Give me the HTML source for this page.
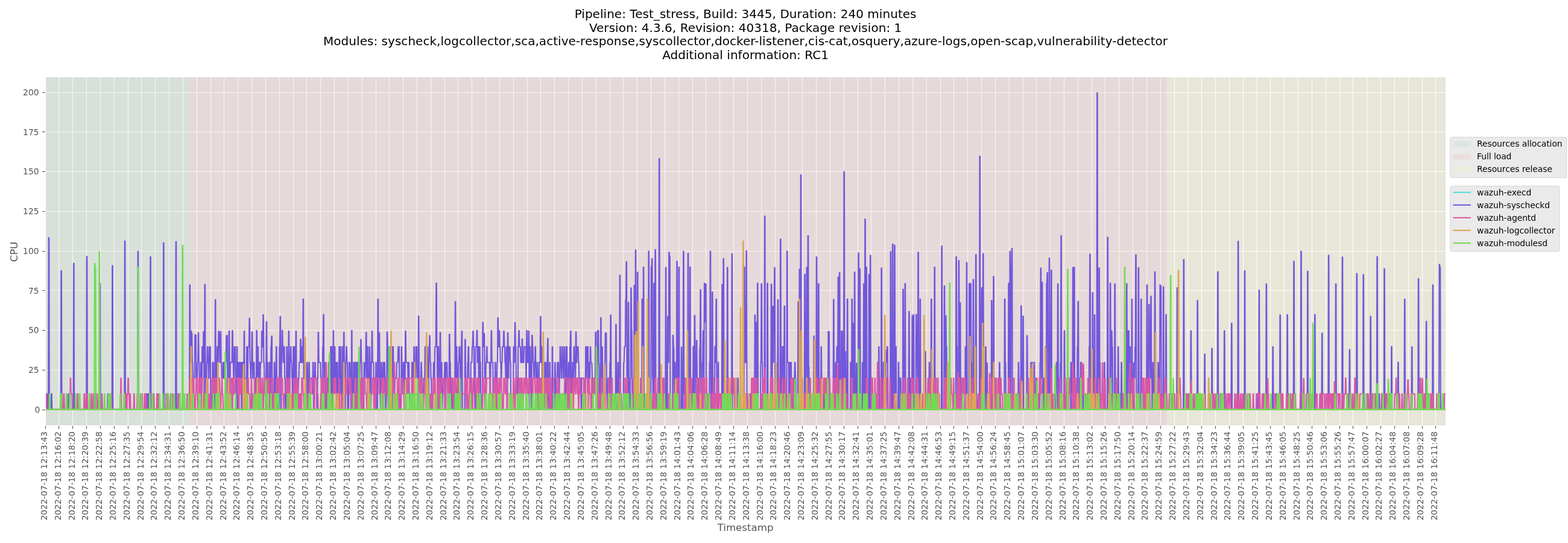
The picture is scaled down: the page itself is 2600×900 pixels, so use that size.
<!DOCTYPE html>
<html lang="en"><head><meta charset="utf-8"><title>CPU usage</title>
<style>html,body{margin:0;padding:0;background:#fff;}svg{display:block;}text{font-family:"DejaVu Sans","Liberation Sans",sans-serif;}.tl{font-size:13.89px;fill:#555555;}.ti{font-size:20px;fill:#000;text-anchor:middle;letter-spacing:0.033px;}.lg{font-size:13.89px;fill:#000;letter-spacing:-0.06px;}.al{font-size:16.67px;fill:#555555;text-anchor:middle;}.s{fill:none;stroke-width:2.08;stroke-linejoin:round;stroke-linecap:butt;}</style></head><body>
<svg width="2600" height="900" viewBox="0 0 2600 900">
<rect width="2600" height="900" fill="#ffffff"/>
<text class="ti" x="1236.1" y="30.2">Pipeline: Test_stress, Build: 3445, Duration: 240 minutes</text>
<text class="ti" x="1236.1" y="52.7">Version: 4.3.6, Revision: 40318, Package revision: 1</text>
<text class="ti" x="1236.1" y="75.2">Modules: syscheck,logcollector,sca,active-response,syscollector,docker-listener,cis-cat,osquery,azure-logs,open-scap,vulnerability-detector</text>
<text class="ti" x="1236.1" y="97.7">Additional information: RC1</text>
<rect x="76.0" y="128.0" width="2321.0" height="577.0" fill="#e5e5e5"/>
<path d="M97.5 128V705M120.5 128V705M143.5 128V705M166.5 128V705M189.5 128V705M212.5 128V705M234.5 128V705M257.5 128V705M280.5 128V705M303.5 128V705M326.5 128V705M349.5 128V705M371.5 128V705M394.5 128V705M417.5 128V705M440.5 128V705M463.5 128V705M486.5 128V705M508.5 128V705M531.5 128V705M554.5 128V705M577.5 128V705M600.5 128V705M623.5 128V705M645.5 128V705M668.5 128V705M691.5 128V705M714.5 128V705M737.5 128V705M759.5 128V705M782.5 128V705M805.5 128V705M828.5 128V705M851.5 128V705M874.5 128V705M896.5 128V705M919.5 128V705M942.5 128V705M965.5 128V705M988.5 128V705M1011.5 128V705M1033.5 128V705M1056.5 128V705M1079.5 128V705M1102.5 128V705M1125.5 128V705M1148.5 128V705M1170.5 128V705M1193.5 128V705M1216.5 128V705M1239.5 128V705M1262.5 128V705M1285.5 128V705M1307.5 128V705M1330.5 128V705M1353.5 128V705M1376.5 128V705M1399.5 128V705M1422.5 128V705M1444.5 128V705M1467.5 128V705M1490.5 128V705M1513.5 128V705M1536.5 128V705M1559.5 128V705M1581.5 128V705M1604.5 128V705M1627.5 128V705M1650.5 128V705M1673.5 128V705M1696.5 128V705M1718.5 128V705M1741.5 128V705M1764.5 128V705M1787.5 128V705M1810.5 128V705M1832.5 128V705M1855.5 128V705M1878.5 128V705M1901.5 128V705M1924.5 128V705M1947.5 128V705M1969.5 128V705M1992.5 128V705M2015.5 128V705M2038.5 128V705M2061.5 128V705M2084.5 128V705M2106.5 128V705M2129.5 128V705M2152.5 128V705M2175.5 128V705M2198.5 128V705M2221.5 128V705M2243.5 128V705M2266.5 128V705M2289.5 128V705M2312.5 128V705M2335.5 128V705M2358.5 128V705M2380.5 128V705M76 679.5H2397M76 613.5H2397M76 547.5H2397M76 481.5H2397M76 416.5H2397M76 350.5H2397M76 284.5H2397M76 218.5H2397M76 153.5H2397" stroke="#ffffff" stroke-width="1.11" fill="none"/>
<rect x="76.0" y="128.0" width="239.0" height="577.0" fill="#008000" fill-opacity="0.05"/>
<rect x="315.0" y="128.0" width="1619.0" height="577.0" fill="#ff0000" fill-opacity="0.05"/>
<rect x="1934.0" y="128.0" width="463.0" height="577.0" fill="#ffff00" fill-opacity="0.05"/>
<clipPath id="c"><rect x="76.0" y="128.0" width="2321.0" height="577.0"/></clipPath>
<g clip-path="url(#c)">
<path class="s" stroke="#57dbdb" d="M75.33 678.85H2396.92"/>
<path class="s" stroke="#7157db" d="M75.33 678.85H78.04L78.59 652.82H79.13L79.68 678.85H80.22L80.77 393.95H81.31L81.85 678.85H84.57L85.11 652.82H85.65L86.2 678.85H100.87L101.42 448.7H101.96L102.51 678.85H112.83L113.38 652.82H113.92L114.47 678.85H121.53L122.08 436.45H122.62L123.16 678.85H143.27L143.82 425.2H144.36L144.91 678.85H156.32L156.87 652.82H157.41L157.95 678.85H165.02L165.56 469.95H166.1L166.65 678.85H178.06L178.61 652.82H179.15L179.7 678.85H185.67L186.22 440.2H186.76L187.31 678.85H206.33L206.87 399.45H207.41L207.96 678.85H228.07L228.62 416.7H229.16L229.7 678.85H243.29L243.84 652.82H244.38L244.92 678.85H245.46L246.01 652.82H246.55L247.1 678.85H248.73L249.27 425.7H249.81L250.36 678.85H270.47L271.02 402.45H271.56L272.1 678.85H274.82L275.36 652.82H275.9L276.45 678.85H282.43L282.97 652.82H283.51L284.06 678.85H291.12L291.67 400.45H292.21L292.76 678.85H313.95L314.5 472.2H315.04L315.59 600.75H316.13L316.68 548.69H317.22L317.76 552.7H318.3L318.85 600.75H319.39L319.94 626.79H322.65L323.2 554.92H323.74L324.29 555.2H324.83L325.37 626.79H327L327.55 600.75H328.09L328.63 551.45H329.17L329.72 600.75H330.26L330.81 652.82H332.44L332.98 600.75H333.52L334.07 678.85H334.61L335.16 574.72H335.7L336.24 600.75H336.78L337.33 549.7H337.87L338.42 678.85H338.96L339.51 471.2H340.05L340.59 626.79H341.13L341.68 678.85H342.22L342.77 600.75H343.31L343.85 574.72H344.39L344.94 600.75H345.48L346.03 626.79H346.57L347.12 574.72H348.74L349.29 652.82H349.83L350.38 678.85H352L352.55 600.75H354.18L354.73 678.85H356.35L356.9 496.7H357.44L357.99 678.85H358.53L359.07 626.79H359.61L360.16 574.72H360.7L361.25 600.75H361.79L362.34 548.69H362.88L363.42 555.7H363.96L364.51 600.75H365.05L365.6 549.45H366.14L366.68 600.75H367.22L367.77 626.79H369.4L369.95 600.75H370.49L371.03 626.79H371.57L372.12 600.75H372.66L373.21 626.79H373.75L374.29 600.75H374.83L375.38 556.41H375.92L376.47 556.2H377.01L377.56 678.85H378.1L378.64 652.82H379.18L379.73 548.69H380.27L380.82 652.82H381.36L381.9 600.75H384.62L385.17 547.95H385.71L386.25 600.75H386.79L387.34 626.79H387.88L388.43 574.72H390.05L390.6 626.79H391.14L391.69 678.85H392.23L392.78 574.72H393.32L393.86 678.85H394.4L394.95 600.75H395.49L396.04 626.79H396.58L397.12 600.75H397.66L398.21 626.79H398.75L399.3 600.75H399.84L400.39 678.85H400.93L401.47 600.75H403.1L403.65 626.79H404.19L404.73 548.7H405.27L405.82 678.85H406.36L406.91 626.79H407.45L408 678.85H408.54L409.08 574.72H409.62L410.17 652.82H410.71L411.26 574.72H412.88L413.43 527.45H413.97L414.52 600.75H415.06L415.61 626.79H416.15L416.69 600.75H417.23L417.78 550.2H418.32L418.87 626.79H419.41L419.95 600.75H421.58L422.13 678.85H422.67L423.22 626.79H423.76L424.3 652.82H424.84L425.39 547.95H425.93L426.48 678.85H427.02L427.56 574.72H428.1L428.65 678.85H429.19L429.74 600.75H430.28L430.83 626.79H431.37L431.91 600.75H433.54L434.09 548.7H434.63L435.17 574.72H435.71L436.26 521.7H436.8L437.35 600.75H437.89L438.44 626.79H438.98L439.52 652.82H440.06L440.61 626.79H441.15L441.7 533.2H442.24L442.78 626.79H443.32L443.87 600.75H444.41L444.96 652.82H446.59L447.13 600.75H447.67L448.22 652.82H448.76L449.31 574.72H449.85L450.39 556.95H450.93L451.48 678.85H454.2L454.74 600.75H455.28L455.83 678.85H456.37L456.92 626.79H457.46L458 574.72H458.54L459.09 626.79H459.63L460.18 678.85H460.72L461.27 626.79H461.81L462.35 678.85H462.89L463.44 574.72H463.98L464.53 524.7H465.07L465.61 678.85H466.15L466.7 600.75H467.24L467.79 547.7H468.33L468.88 574.72H469.42L469.96 600.75H470.5L471.05 574.72H471.59L472.14 626.79H472.68L473.22 678.85H474.85L475.4 574.72H475.94L476.49 652.82H477.03L477.57 626.79H478.11L478.66 548.7H479.2L479.75 678.85H480.29L480.83 600.75H481.37L481.92 574.72H482.46L483.01 600.75H483.55L484.1 626.79H484.64L485.18 678.85H485.72L486.27 574.72H486.81L487.36 626.79H487.9L488.44 574.72H488.98L489.53 678.85H490.07L490.62 548.69H491.16L491.71 678.85H492.25L492.79 626.79H493.33L493.88 652.82H494.42L494.97 626.79H495.51L496.05 600.75H497.68L498.23 562.2H498.77L499.32 600.75H499.86L500.4 574.72H500.94L501.49 600.75H502.03L502.58 495.7H503.12L503.66 626.79H505.29L505.84 600.75H506.38L506.93 678.85H508.55L509.1 600.75H509.64L510.19 626.79H510.73L511.27 678.85H511.81L512.36 600.75H512.9L513.45 652.82H513.99L514.54 626.79H517.25L517.8 652.82H518.34L518.88 600.75H519.42L519.97 678.85H520.51L521.06 626.79H521.6L522.15 600.75H522.69L523.23 626.79H524.86L525.41 678.85H525.95L526.49 626.79H527.03L527.58 550.7H528.12L528.67 600.75H531.38L531.93 626.79H532.47L533.02 678.85H533.56L534.1 626.79H534.64L535.19 574.72H535.73L536.28 521.45H536.82L537.37 678.85H537.91L538.45 600.75H538.99L539.54 626.79H540.08L540.63 678.85H542.25L542.8 626.79H543.34L543.89 678.85H544.43L544.98 600.75H545.52L546.06 678.85H546.6L547.15 626.79H547.69L548.24 574.72H548.78L549.32 678.85H549.86L550.41 574.72H550.95L551.5 678.85H552.04L552.59 548.2H553.13L553.67 652.82H554.21L554.76 574.72H555.3L555.85 626.79H556.39L556.93 600.75H557.47L558.02 678.85H558.56L559.11 600.75H559.65L560.2 652.82H560.74L561.28 678.85H561.82L562.37 574.72H562.91L563.46 652.82H564L564.54 574.72H565.08L565.63 652.82H566.17L566.72 678.85H567.26L567.81 574.72H568.35L568.89 678.85H569.43L569.98 550.7H570.52L571.07 600.75H571.61L572.15 678.85H572.69L573.24 600.75H573.78L574.33 574.72H574.87L575.42 600.75H575.96L576.5 678.85H578.13L578.68 600.75H580.3L580.85 626.79H581.39L581.94 678.85H582.48L583.03 547.7H583.57L584.11 678.85H585.74L586.29 600.75H587.91L588.46 678.85H589L589.55 600.75H591.18L591.72 678.85H592.26L592.81 600.75H593.35L593.9 626.79H594.44L594.98 600.75H595.52L596.07 626.79H596.61L597.16 600.75H597.7L598.25 562.7H598.79L599.33 600.75H599.87L600.42 678.85H600.96L601.51 626.79H602.05L602.59 678.85H603.13L603.68 600.75H604.22L604.77 626.79H605.31L605.86 600.75H606.4L606.94 550.7H607.48L608.03 626.79H608.57L609.12 574.72H609.66L610.2 626.79H610.74L611.29 678.85H611.83L612.38 574.72H612.92L613.47 600.75H614.01L614.55 678.85H615.09L615.64 600.75H616.18L616.73 548.69H617.27L617.81 600.75H619.44L619.99 678.85H620.53L621.08 626.79H621.62L622.16 652.82H622.7L623.25 600.75H623.79L624.34 678.85H625.96L626.51 495.7H627.05L627.6 626.79H628.14L628.69 551.45H629.23L629.77 626.79H630.31L630.86 678.85H631.4L631.95 600.75H632.49L633.03 626.79H634.66L635.21 600.75H635.75L636.3 678.85H636.84L637.38 600.75H637.92L638.47 626.79H639.01L639.56 678.85H640.1L640.64 652.82H641.18L641.73 550.2H642.27L642.82 574.72H643.36L643.91 678.85H644.45L644.99 626.79H645.53L646.08 574.72H647.71L648.25 600.75H648.79L649.34 574.72H649.88L650.43 678.85H650.97L651.52 574.72H652.06L652.6 678.85H653.14L653.69 652.82H654.23L654.78 626.79H657.49L658.04 600.75H659.67L660.21 574.72H661.84L662.39 678.85H664.01L664.56 652.82H665.1L665.65 574.72H666.19L666.74 626.79H667.28L667.82 652.82H668.36L668.91 600.75H670.54L671.08 652.82H671.62L672.17 548.69H672.71L673.26 600.75H675.97L676.52 626.79H677.06L677.61 600.75H678.15L678.69 678.85H680.32L680.87 652.82H681.41L681.96 678.85H682.5L683.04 600.75H684.67L685.22 678.85H685.76L686.3 574.72H686.84L687.39 626.79H689.02L689.57 574.72H691.19L691.74 626.79H692.28L692.83 678.85H693.37L693.91 523.95H694.45L695 626.79H695.54L696.09 652.82H696.63L697.18 626.79H697.72L698.26 600.75H698.8L699.35 626.79H699.89L700.44 652.82H700.98L701.52 678.85H702.06L702.61 626.79H704.24L704.79 574.72H706.41L706.96 678.85H707.5L708.05 574.72H708.59L709.13 600.75H709.67L710.22 678.85H710.76L711.31 574.72H711.85L712.4 556.2H712.94L713.48 600.75H714.02L714.57 626.79H715.11L715.66 678.85H717.28L717.83 652.82H718.37L718.92 600.75H719.46L720.01 626.79H720.55L721.09 574.72H722.72L723.27 469.2H723.81L724.35 574.72H724.89L725.44 678.85H725.98L726.53 574.72H727.07L727.62 652.82H728.16L728.7 600.75H729.24L729.79 551.2H730.33L730.88 652.82H731.42L731.96 600.75H732.5L733.05 678.85H733.59L734.14 652.82H734.68L735.23 626.79H736.85L737.4 600.75H737.94L738.49 678.85H739.03L739.57 600.75H741.2L741.75 626.79H742.29L742.84 678.85H744.46L745.01 553.95H745.55L746.1 600.75H746.64L747.18 652.82H747.72L748.27 626.79H748.81L749.36 678.85H750.99L751.53 652.82H752.07L752.62 678.85H753.16L753.71 626.79H754.25L754.79 499.95H755.33L755.88 626.79H756.42L756.97 574.72H757.51L758.06 626.79H758.6L759.14 652.82H759.68L760.23 600.75H760.77L761.32 574.72H761.86L762.4 600.75H762.94L763.49 678.85H764.03L764.58 574.72H765.12L765.67 548.69H766.21L766.75 678.85H770.55L771.1 562.7H771.64L772.19 626.79H773.82L774.36 652.82H774.9L775.45 600.75H775.99L776.54 574.72H777.08L777.62 626.79H779.25L779.8 678.85H780.34L780.89 600.75H782.51L783.06 574.72H783.6L784.15 548.69H784.69L785.23 574.72H785.77L786.32 626.79H786.86L787.41 678.85H787.95L788.5 574.72H790.12L790.67 547.7H791.21L791.76 600.75H792.3L792.84 574.72H793.38L793.93 678.85H794.47L795.02 574.72H795.56L796.11 600.75H796.65L797.19 652.82H797.73L798.28 678.85H799.91L800.45 534.45H800.99L801.54 574.72H802.08L802.63 552.7H803.17L803.72 626.79H805.34L805.89 600.75H806.43L806.98 574.72H807.52L808.06 600.75H811.87L812.41 652.82H812.95L813.5 600.75H814.04L814.59 547.95H815.13L815.67 600.75H817.3L817.85 678.85H818.39L818.94 626.79H819.48L820.02 678.85H820.56L821.11 600.75H821.65L822.2 678.85H822.74L823.28 626.79H823.82L824.37 600.75H824.91L825.46 526.7H826L826.55 574.72H827.09L827.63 548.2H828.17L828.72 574.72H829.26L829.81 600.75H830.35L830.89 626.79H831.43L831.98 600.75H832.52L833.07 574.72H834.7L835.24 548.69H835.78L836.33 574.72H836.87L837.42 600.75H837.96L838.5 626.79H839.04L839.59 574.72H840.13L840.68 678.85H841.22L841.77 551.45H842.31L842.85 626.79H843.39L843.94 574.72H845.57L846.11 600.75H846.65L847.2 678.85H848.83L849.38 652.82H849.92L850.46 678.85H851L851.55 574.72H852.09L852.64 600.75H853.18L853.72 534.7H854.26L854.81 574.72H855.35L855.9 626.79H857.53L858.07 678.85H858.61L859.16 574.72H859.7L860.25 547.95H860.79L861.33 574.72H862.96L863.51 600.75H865.14L865.68 561.7H866.22L866.77 600.75H868.4L868.94 574.72H871.66L872.21 626.79H872.75L873.29 547.95H873.83L874.38 600.75H876.01L876.55 548.69H877.09L877.64 678.85H878.18L878.73 574.72H879.27L879.82 600.75H880.36L880.9 678.85H881.44L881.99 555.7H882.53L883.08 574.72H883.62L884.16 600.75H884.7L885.25 626.79H885.79L886.34 600.75H886.88L887.43 574.72H887.97L888.51 626.79H890.14L890.69 600.75H891.23L891.77 626.79H892.31L892.86 678.85H893.4L893.95 600.75H895.58L896.12 524.7H896.66L897.21 600.75H897.75L898.3 574.72H898.84L899.38 678.85H899.92L900.47 574.72H901.01L901.56 652.82H902.1L902.65 600.75H903.19L903.73 678.85H904.27L904.82 600.75H905.36L905.91 678.85H906.45L906.99 600.75H907.53L908.08 560.95H908.62L909.17 652.82H909.71L910.26 678.85H910.8L911.34 600.75H911.88L912.43 678.85H912.97L913.52 652.82H914.06L914.6 678.85H915.14L915.69 574.72H916.23L916.78 678.85H917.32L917.87 652.82H918.41L918.95 678.85H919.49L920.04 600.75H920.58L921.13 626.79H921.67L922.21 678.85H922.75L923.3 626.79H923.84L924.39 600.75H926.02L926.56 678.85H927.1L927.65 626.79H928.19L928.74 574.72H929.28L929.82 600.75H930.36L930.91 626.79H931.45L932 574.72H932.54L933.09 600.75H933.63L934.17 626.79H934.71L935.26 574.72H935.8L936.35 600.75H936.89L937.43 678.85H937.97L938.52 574.72H940.15L940.7 678.85H941.24L941.78 626.79H942.32L942.87 600.75H943.41L943.96 678.85H944.5L945.04 574.72H945.58L946.13 548.69H946.67L947.22 678.85H947.76L948.31 626.79H948.85L949.39 600.75H949.93L950.48 626.79H951.02L951.57 574.72H952.11L952.65 600.75H953.19L953.74 626.79H954.28L954.83 550.2H955.37L955.92 600.75H956.46L957 574.72H958.63L959.18 600.75H959.72L960.26 626.79H960.8L961.35 652.82H961.89L962.44 626.79H962.98L963.53 678.85H964.07L964.61 626.79H968.41L968.96 652.82H969.5L970.05 678.85H970.59L971.14 574.72H971.68L972.22 626.79H972.76L973.31 574.72H974.94L975.48 678.85H976.02L976.57 600.75H977.11L977.66 626.79H978.2L978.75 574.72H979.29L979.83 600.75H980.37L980.92 602.07H981.46L982.01 626.79H982.55L983.09 678.85H983.63L984.18 626.79H986.9L987.44 550.45H987.98L988.53 652.82H989.07L989.62 678.85H990.16L990.7 547.95H991.24L991.79 548.03H992.33L992.88 603.37H993.42L993.97 678.85H995.59L996.14 526.45H996.68L997.23 678.85H997.77L998.31 575.05H998.85L999.4 678.85H1002.12L1002.66 600.75H1003.2L1003.75 551.95H1004.29L1004.84 552.13H1005.38L1005.92 652.82H1006.46L1007.01 678.85H1007.55L1008.1 626.79H1009.73L1010.27 678.85H1010.81L1011.36 600.75H1011.9L1012.45 522.2H1012.99L1013.53 678.85H1020.6L1021.14 537.7H1021.68L1022.23 678.85H1022.77L1023.32 652.82H1023.86L1024.41 600.75H1024.95L1025.49 678.85H1027.12L1027.67 456.2H1028.21L1028.75 678.85H1033.64L1034.19 600.75H1034.73L1035.28 574.72H1036.9L1037.45 496.7H1037.99L1038.54 433.7H1039.08L1039.63 678.85H1041.25L1041.8 501.2H1042.34L1042.89 678.85H1044.51L1045.06 626.79H1045.6L1046.15 477.2H1046.69L1047.24 547.95H1047.78L1048.32 678.85H1051.04L1051.58 472.95H1052.12L1052.67 678.85H1053.21L1053.76 414.2H1054.3L1054.85 678.85H1056.47L1057.02 451.2H1057.56L1058.11 678.85H1061.91L1062.46 626.79H1063L1063.54 678.85H1064.08L1064.63 495.7H1065.17L1065.72 678.85H1066.26L1066.8 442.7H1067.34L1067.89 678.85H1074.95L1075.5 416.45H1076.04L1076.59 678.85H1077.13L1077.68 652.82H1078.22L1078.76 678.85H1079.3L1079.85 442.7H1080.39L1080.94 428.7H1081.48L1082.02 626.79H1082.56L1083.11 678.85H1083.65L1084.2 469.45H1084.74L1085.29 652.82H1085.83L1086.37 413.7H1086.91L1087.46 678.85H1089.09L1089.63 652.82H1090.17L1090.72 678.85H1092.35L1092.9 263.13H1093.44L1093.98 678.85H1101.05L1101.59 652.82H1102.13L1102.68 678.85H1103.22L1103.77 443.2H1104.31L1104.85 678.85H1106.48L1107.03 524.45H1107.57L1108.12 600.75H1108.66L1109.2 418.2H1109.74L1110.29 425.7H1110.83L1111.38 678.85H1115.18L1115.73 555.7H1116.27L1116.81 576.35H1117.35L1117.9 678.85H1118.44L1118.99 600.58H1119.53L1120.07 678.85H1121.7L1122.25 433.2H1122.79L1123.34 678.85H1124.96L1125.51 442.7H1126.05L1126.6 678.85H1129.31L1129.86 575.42H1130.4L1130.95 678.85H1132.57L1133.12 416.7H1133.66L1134.21 652.82H1134.75L1135.29 626.79H1135.83L1136.38 678.85H1138.01L1138.56 652.82H1139.1L1139.64 678.85H1140.18L1140.73 419.7H1141.27L1141.82 678.85H1143.44L1143.99 442.7H1144.53L1145.08 678.85H1148.88L1149.43 574.49H1149.97L1150.51 678.85H1151.05L1151.6 522.7H1152.14L1152.69 600.75H1153.23L1153.78 678.85H1154.32L1154.86 564.24H1155.4L1155.95 626.79H1157.58L1158.12 678.85H1159.75L1160.3 577.28H1160.84L1161.39 480.2H1161.93L1162.47 678.85H1164.1L1164.65 600.75H1165.19L1165.73 548.2H1166.27L1166.82 626.79H1167.36L1167.91 469.45H1168.45L1169 533.5H1169.54L1170.08 470.7H1170.62L1171.17 678.85H1173.88L1174.43 652.82H1174.97L1175.52 678.85H1176.06L1176.61 600.58H1177.15L1177.69 416.45H1178.23L1178.78 678.85H1180.41L1180.95 483.95H1181.49L1182.04 678.85H1182.58L1183.13 626.79H1183.67L1184.22 678.85H1184.76L1185.3 574.49H1185.84L1186.39 600.75H1186.93L1187.48 495.7H1188.02L1188.56 678.85H1190.19L1190.74 600.58H1191.28L1191.83 678.85H1196.71L1197.26 471.7H1197.8L1198.35 678.85H1198.89L1199.44 428.7H1199.98L1200.52 678.85H1205.41L1205.96 443.2H1206.5L1207.05 678.85H1210.85L1211.39 652.82H1211.93L1212.48 678.85H1213.02L1213.57 420.7H1214.11L1214.66 678.85H1222.81L1223.35 626.79H1223.89L1224.44 678.85H1232.59L1233.14 652.82H1233.68L1234.22 442.7H1234.76L1235.31 600.75H1236.94L1237.49 415.7H1238.03L1238.57 652.82H1239.11L1239.66 678.85H1243.46L1244.01 652.82H1244.55L1245.1 678.85H1247.81L1248.36 626.79H1248.9L1249.44 678.85H1251.07L1251.62 522.2H1252.16L1252.71 678.85H1253.25L1253.79 534.45H1254.33L1254.88 678.85H1255.42L1255.97 469.45H1256.51L1257.05 678.85H1260.86L1261.4 600.75H1261.94L1262.49 470.2H1263.03L1263.58 600.75H1264.12L1264.66 678.85H1267.38L1267.93 358.31H1268.47L1269.01 678.85H1271.73L1272.27 469.45H1272.81L1273.36 652.82H1273.9L1274.45 678.85H1278.25L1278.8 471.2H1279.34L1279.88 678.85H1280.42L1280.97 507.7H1281.51L1282.06 600.75H1282.6L1283.15 507.7H1283.69L1284.23 443.45H1284.77L1285.32 678.85H1289.12L1289.67 496.95H1290.21L1290.76 678.85H1293.47L1294.02 396.45H1294.56L1295.1 678.85H1295.64L1296.19 652.82H1296.73L1297.28 574.49H1297.82L1298.37 574.72H1298.91L1299.45 678.85H1299.99L1300.54 507.2H1301.08L1301.63 678.85H1304.34L1304.89 416.45H1305.43L1305.98 600.75H1307.6L1308.15 678.85H1308.69L1309.24 600.58H1309.78L1310.32 678.85H1310.86L1311.41 600.75H1311.95L1312.5 678.85H1313.04L1313.59 652.82H1314.13L1314.67 678.85H1316.3L1316.85 626.79H1317.39L1317.93 600.75H1318.47L1319.02 626.79H1319.56L1320.11 678.85H1322.82L1323.37 500.7H1323.91L1324.46 678.85H1325L1325.54 446.2H1326.08L1326.63 626.79H1327.17L1327.72 289.95H1328.26L1328.81 678.85H1333.69L1334.24 454.7H1334.78L1335.33 678.85H1335.87L1336.42 574.49H1336.96L1337.5 443.2H1338.04L1338.59 678.85H1339.13L1339.68 390.7H1340.22L1340.76 608.03H1341.3L1341.85 678.85H1342.39L1342.94 626.79H1343.48L1344.03 678.85H1348.91L1349.46 556.95H1350L1350.55 652.82H1351.09L1351.64 678.85H1353.26L1353.81 425.95H1354.35L1354.9 602.07H1355.44L1355.98 678.85H1356.52L1357.07 470.2H1357.61L1358.16 678.85H1360.87L1361.42 574.86H1361.96L1362.51 626.79H1363.05L1363.59 678.85H1365.22L1365.77 652.82H1366.31L1366.86 678.85H1368.48L1369.03 652.82H1369.57L1370.12 678.85H1372.83L1373.38 549.33H1373.92L1374.47 549.7H1375.01L1375.55 678.85H1377.18L1377.73 652.82H1379.35L1379.9 678.85H1381.53L1382.08 496.45H1382.62L1383.16 678.85H1384.79L1385.34 600.75H1385.88L1386.42 678.85H1386.96L1387.51 574.72H1388.05L1388.6 600.75H1389.14L1389.69 459.2H1390.23L1390.77 678.85H1391.31L1391.86 451.95H1392.4L1392.95 678.85H1394.57L1395.12 548.77H1395.66L1396.21 548.7H1396.75L1397.3 678.85H1398.92L1399.47 284.69H1400.01L1400.56 678.85H1401.1L1401.64 582.87H1402.18L1402.73 678.85H1404.36L1404.91 495.7H1405.45L1405.99 678.85H1409.79L1410.34 600.58H1410.88L1411.43 678.85H1411.97L1412.52 495.7H1413.06L1413.6 678.85H1414.14L1414.69 536.2H1415.23L1415.78 652.82H1416.32L1416.86 450.95H1417.4L1417.95 678.85H1418.49L1419.04 652.82H1419.58L1420.13 602.07H1420.67L1421.21 678.85H1422.84L1423.39 419.2H1423.93L1424.47 678.85H1425.01L1425.56 445.45H1426.1L1426.65 678.85H1429.36L1429.91 600.75H1430.45L1431 678.85H1431.54L1432.08 470.2H1432.62L1433.17 678.85H1433.71L1434.26 363.31H1434.8L1435.35 678.85H1435.89L1436.43 442.95H1436.97L1437.52 678.85H1438.06L1438.61 652.82H1439.15L1439.69 678.85H1440.23L1440.78 455.2H1441.32L1441.87 678.85H1442.41L1442.96 423.2H1443.5L1444.04 678.85H1450.02L1450.57 652.82H1451.11L1451.65 678.85H1456.54L1457.09 574.72H1457.63L1458.18 678.85H1459.8L1460.35 652.82H1460.89L1461.44 444.2H1461.98L1462.52 678.85H1464.15L1464.7 600.58H1465.24L1465.79 652.82H1466.33L1466.87 678.85H1468.5L1469.05 600.75H1469.59L1470.13 580.64H1470.67L1471.22 574.72H1471.76L1472.31 678.85H1476.11L1476.66 416.95H1477.2L1477.74 678.85H1479.37L1479.92 404.45H1480.46L1481.01 678.85H1482.63L1483.18 406.2H1483.72L1484.27 678.85H1484.81L1485.35 574.49H1485.89L1486.44 678.85H1489.16L1489.7 600.58H1490.24L1490.79 678.85H1491.33L1491.88 626.79H1493.5L1494.05 652.82H1494.59L1495.14 678.85H1496.77L1497.31 479.45H1497.85L1498.4 678.85H1500.03L1500.57 469.95H1501.11L1501.66 678.85H1506.55L1507.1 516.2H1507.64L1508.18 678.85H1508.72L1509.27 626.79H1509.81L1510.36 678.85H1511.99L1512.53 523.2H1513.07L1513.62 678.85H1514.16L1514.71 521.45H1515.25L1515.79 678.85H1518.51L1519.06 521.45H1519.6L1520.14 585.67H1520.68L1521.23 626.79H1521.77L1522.32 417.95H1522.86L1523.4 678.85H1525.03L1525.58 495.7H1526.12L1526.67 678.85H1533.73L1534.28 582.87H1534.82L1535.36 678.85H1536.99L1537.54 652.82H1538.08L1538.62 678.85H1540.25L1540.8 600.75H1541.34L1541.89 678.85H1543.51L1544.06 495.7H1544.6L1545.15 652.82H1545.69L1546.23 678.85H1548.95L1549.5 442.95H1550.04L1550.58 678.85H1551.12L1551.67 626.79H1552.21L1552.76 678.85H1560.91L1561.45 407.7H1561.99L1562.54 678.85H1565.26L1565.8 473.95H1566.34L1566.89 678.85H1567.43L1567.98 523.45H1568.52L1569.06 574.72H1569.6L1570.15 678.85H1584.82L1585.37 425.7H1585.91L1586.46 574.72H1587L1587.55 678.85H1589.17L1589.72 431.95H1590.26L1590.81 678.85H1591.35L1591.89 501.95H1592.43L1592.98 678.85H1595.7L1596.24 626.79H1596.78L1597.33 678.85H1600.04L1600.59 574.72H1601.13L1601.68 652.82H1602.22L1602.77 435.2H1603.31L1603.85 678.85H1606.57L1607.11 469.95H1607.65L1608.2 678.85H1608.74L1609.29 469.95H1609.83L1610.38 600.75H1610.92L1611.46 678.85H1613.09L1613.64 463.2H1614.18L1614.72 678.85H1616.35L1616.9 626.79H1617.44L1617.99 421.95H1618.53L1619.07 652.82H1619.61L1620.16 678.85H1623.96L1624.51 258.92H1625.05L1625.6 678.85H1626.14L1626.68 626.79H1627.22L1627.77 476.95H1628.31L1628.86 678.85H1629.4L1629.94 420.45H1630.48L1631.03 678.85H1632.66L1633.21 652.82H1633.75L1634.29 574.86H1634.83L1635.38 678.85H1635.92L1636.47 601.51H1637.01L1637.55 678.85H1643.53L1644.08 497.95H1644.62L1645.16 678.85H1646.79L1647.34 458.2H1647.88L1648.43 678.85H1648.97L1649.51 626.79H1650.05L1650.6 678.85H1656.58L1657.12 600.75H1657.66L1658.21 652.82H1658.75L1659.3 678.85H1665.27L1665.82 495.7H1666.36L1666.91 600.75H1667.45L1667.99 678.85H1671.8L1672.34 469.45H1672.88L1673.43 678.85H1673.97L1674.52 416.7H1675.06L1675.6 678.85H1676.14L1676.69 448.7H1677.23L1677.78 411.7H1678.32L1678.87 678.85H1684.84L1685.39 652.82H1685.93L1686.48 678.85H1688.1L1688.65 600.75H1689.19L1689.74 678.85H1692.45L1693 506.95H1693.54L1694.09 678.85H1695.71L1696.26 523.95H1696.8L1697.35 678.85H1702.24L1702.78 556.2H1703.32L1703.87 626.79H1704.41L1704.96 678.85H1708.76L1709.31 600.75H1709.85L1710.39 678.85H1710.93L1711.48 600.75H1712.02L1712.57 678.85H1714.19L1714.74 600.75H1715.28L1715.83 678.85H1717.46L1718 626.79H1718.54L1719.09 678.85H1723.98L1724.53 600.75H1725.07L1725.61 444.45H1726.15L1726.7 626.79H1727.24L1727.79 467.7H1728.33L1728.87 678.85H1730.5L1731.05 626.79H1731.59L1732.14 678.85H1732.68L1733.22 574.72H1733.76L1734.31 678.85H1734.85L1735.4 469.45H1735.94L1736.48 451.95H1737.02L1737.57 678.85H1738.11L1738.66 652.82H1739.2L1739.75 427.95H1740.29L1740.83 652.82H1742.46L1743.01 447.7H1743.55L1744.09 678.85H1748.98L1749.53 652.82H1750.07L1750.62 678.85H1751.16L1751.7 600.75H1752.24L1752.79 678.85H1753.33L1753.88 470.45H1754.42L1754.97 626.79H1755.51L1756.05 678.85H1757.68L1758.23 600.75H1758.77L1759.31 390.45H1759.85L1760.4 678.85H1764.2L1764.75 548.2H1765.29L1765.84 678.85H1775.07L1775.62 600.75H1776.16L1776.71 678.85H1778.34L1778.88 443.2H1779.42L1779.97 678.85H1780.51L1781.06 443.2H1781.6L1782.14 678.85H1785.95L1786.49 574.72H1787.03L1787.58 499.45H1788.12L1788.67 678.85H1789.21L1789.75 626.79H1790.29L1790.84 678.85H1791.38L1791.93 600.75H1792.47L1793.02 678.85H1795.73L1796.28 626.79H1796.82L1797.36 678.85H1800.08L1800.63 652.82H1801.17L1801.71 678.85H1805.51L1806.06 574.72H1806.6L1807.15 421.2H1807.69L1808.24 678.85H1808.78L1809.32 626.79H1809.86L1810.41 678.85H1810.95L1811.5 484.95H1812.04L1812.58 678.85H1814.21L1814.76 521.7H1815.3L1815.85 678.85H1818.56L1819.11 154H1819.65L1820.19 678.85H1821.82L1822.37 443.95H1822.91L1823.46 600.75H1824L1824.54 678.85H1830.52L1831.07 600.75H1831.61L1832.15 678.85H1835.95L1836.5 393.2H1837.04L1837.59 678.85H1840.3L1840.85 469.45H1841.39L1841.94 652.82H1842.48L1843.02 548.2H1843.56L1844.11 574.72H1844.65L1845.2 652.82H1845.74L1846.29 678.85H1847.91L1848.46 470.45H1849L1849.55 678.85H1853.35L1853.9 574.72H1854.44L1854.98 652.82H1855.52L1856.07 678.85H1856.61L1857.16 652.82H1857.7L1858.24 678.85H1858.78L1859.33 600.75H1859.87L1860.42 678.85H1862.05L1862.59 652.82H1863.13L1863.68 678.85H1867.48L1868.03 470.2H1868.57L1869.12 678.85H1869.66L1870.2 548.4H1870.74L1871.29 548.2H1871.83L1872.38 678.85H1872.92L1873.46 574.72H1874L1874.55 678.85H1876.18L1876.73 495.7H1877.27L1877.81 678.85H1879.44L1879.99 601.51H1880.53L1881.07 626.79H1881.61L1882.16 574.72H1882.7L1883.25 422.2H1883.79L1884.34 678.85H1887.05L1887.6 443.7H1888.14L1888.68 678.85H1891.4L1891.95 495.7H1892.49L1893.03 678.85H1894.66L1895.21 652.82H1895.75L1896.29 678.85H1901.18L1901.73 472.2H1902.27L1902.82 678.85H1904.44L1904.99 504.45H1905.53L1906.08 575.42H1906.62L1907.17 626.79H1907.71L1908.25 490.95H1908.79L1909.34 626.79H1909.88L1910.43 678.85H1910.97L1911.51 600.75H1912.05L1912.6 678.85H1914.23L1914.78 450.45H1915.32L1915.86 600.75H1916.4L1916.95 678.85H1917.49L1918.04 652.82H1918.58L1919.12 678.85H1919.66L1920.21 600.75H1920.75L1921.3 626.79H1921.84L1922.39 678.85H1922.93L1923.47 472.2H1924.01L1924.56 474.8H1925.1L1925.65 652.82H1926.19L1926.73 678.85H1928.36L1928.91 475.45H1929.45L1930 678.85H1932.71L1933.26 521.45H1933.8L1934.34 678.85H1951.19L1951.74 476.95H1952.28L1952.83 678.85H1962.06L1962.61 430.2H1963.15L1963.7 678.85H1974.02L1974.57 548.2H1975.11L1975.66 678.85H1984.89L1985.44 498.2H1985.98L1986.53 678.85H1996.85L1997.4 586.97H1997.94L1998.49 678.85H2008.81L2009.36 577.66H2009.9L2010.44 678.85H2018.59L2019.14 450.45H2019.68L2020.23 678.85H2022.94L2023.49 652.82H2024.03L2024.58 678.85H2029.47L2030.01 548.2H2030.55L2031.1 678.85H2041.42L2041.97 535.95H2042.51L2043.06 678.85H2052.3L2052.84 399.95H2053.38L2053.93 678.85H2063.17L2063.71 448.95H2064.25L2064.8 678.85H2084.91L2085.46 652.82H2086L2086.54 678.85H2087.08L2087.63 480.95H2088.17L2088.72 678.85H2094.69L2095.24 652.82H2095.78L2096.33 678.85H2099.04L2099.59 470.7H2100.13L2100.68 678.85H2109.91L2110.46 574.86H2111L2111.55 678.85H2116.44L2116.98 652.82H2117.52L2118.07 678.85H2121.87L2122.42 521.95H2122.96L2123.51 678.85H2133.83L2134.38 521.7H2134.92L2135.47 678.85H2144.7L2145.25 433.2H2145.79L2146.34 678.85H2156.66L2157.21 416.45H2157.75L2158.3 678.85H2167.53L2168.08 449.7H2168.62L2169.17 678.85H2179.49L2180.04 521.45H2180.58L2181.13 678.85H2188.19L2188.74 652.82H2189.28L2189.82 678.85H2191.45L2192 552.2H2192.54L2193.08 678.85H2202.32L2202.87 423.2H2203.41L2203.96 678.85H2214.28L2214.83 470.45H2215.37L2215.91 678.85H2225.15L2225.7 426.2H2226.24L2226.79 678.85H2237.11L2237.66 579.52H2238.2L2238.74 678.85H2249.07L2249.62 453.45H2250.16L2250.7 678.85H2259.94L2260.49 455.2H2261.03L2261.57 678.85H2271.9L2272.45 524.2H2272.99L2273.53 678.85H2282.77L2283.32 425.45H2283.86L2284.4 678.85H2286.03L2286.58 652.82H2287.12L2287.67 678.85H2290.38L2290.93 652.82H2291.47L2292.01 678.85H2294.73L2295.28 445.45H2295.82L2296.36 678.85H2306.69L2307.23 574.49H2307.77L2308.32 678.85H2317.56L2318.11 600.58H2318.65L2319.19 678.85H2328.43L2328.98 495.95H2329.52L2330.06 678.85H2340.39L2340.94 575.05H2341.48L2342.02 678.85H2351.26L2351.81 461.95H2352.35L2352.89 678.85H2364.31L2364.85 532.7H2365.39L2365.94 678.85H2367.57L2368.11 652.82H2368.65L2369.2 678.85H2375.18L2375.72 472.2H2376.26L2376.81 678.85H2386.05L2386.6 438.2H2387.14L2387.68 443.2H2388.22L2388.77 678.85H2396.92"/>
<path class="s" stroke="#db57a6" d="M75.33 678.85H75.87L76.42 652.82H76.96L77.5 678.85H101.96L102.51 652.82H103.05L103.6 678.85H105.22L105.77 652.82H106.31L106.86 678.85H109.57L110.12 652.82H110.66L111.21 678.85H116.09L116.64 626.79H117.18L117.73 652.82H119.36L119.9 678.85H128.05L128.6 652.82H129.14L129.69 678.85H138.92L139.47 652.82H140.01L140.56 678.85H142.19L142.73 652.82H144.36L144.91 678.85H147.62L148.17 652.82H148.71L149.26 678.85H150.88L151.43 652.82H151.97L152.52 678.85H154.14L154.69 652.82H155.23L155.78 678.85H159.58L160.13 652.82H160.67L161.21 678.85H162.84L163.39 652.82H163.93L164.48 678.85H168.28L168.82 652.82H169.36L169.91 678.85H180.24L180.78 652.82H181.32L181.87 678.85H183.5L184.04 652.82H184.58L185.13 678.85H199.8L200.35 626.79H200.89L201.44 678.85H205.24L205.79 652.82H206.33L206.87 678.85H207.41L207.96 652.82H209.59L210.14 678.85H210.68L211.22 652.82H211.76L212.31 626.79H212.85L213.4 652.82H213.94L214.48 678.85H215.02L215.57 652.82H216.11L216.66 678.85H221.55L222.09 652.82H222.63L223.18 678.85H226.98L227.53 652.82H229.16L229.7 678.85H232.42L232.97 652.82H233.51L234.05 678.85H234.59L235.14 652.82H235.68L236.23 678.85H238.94L239.49 652.82H240.03L240.58 678.85H241.12L241.66 652.82H242.2L242.75 678.85H254.16L254.71 652.82H255.25L255.8 678.85H259.6L260.14 652.82H260.68L261.23 678.85H261.77L262.32 652.82H262.86L263.41 678.85H274.82L275.36 652.82H275.9L276.45 678.85H276.99L277.54 652.82H279.17L279.71 678.85H282.43L282.97 652.82H283.51L284.06 678.85H285.69L286.24 652.82H286.78L287.32 678.85H294.39L294.93 652.82H295.47L296.02 678.85H296.56L297.11 652.82H298.73L299.28 678.85H309.61L310.15 652.82H310.69L311.24 678.85H313.95L314.5 626.79H315.04L315.59 678.85H316.13L316.68 626.79H318.3L318.85 678.85H319.39L319.94 626.79H321.56L322.11 678.85H323.74L324.29 652.82H324.83L325.37 626.79H327L327.55 678.85H329.17L329.72 626.79H330.26L330.81 652.82H331.35L331.9 626.79H332.44L332.98 652.82H333.52L334.07 626.79H337.87L338.42 678.85H340.05L340.59 652.82H342.22L342.77 626.79H344.39L344.94 678.85H346.57L347.12 652.82H347.66L348.2 678.85H350.92L351.46 626.79H352L352.55 652.82H353.09L353.64 626.79H354.18L354.73 652.82H356.35L356.9 626.79H358.53L359.07 678.85H359.61L360.16 652.82H360.7L361.25 678.85H361.79L362.34 626.79H363.96L364.51 652.82H365.05L365.6 678.85H366.14L366.68 652.82H367.22L367.77 626.79H368.31L368.86 652.82H369.4L369.95 678.85H372.66L373.21 626.79H374.83L375.38 678.85H378.1L378.64 626.79H381.36L381.9 678.85H383.53L384.08 626.79H384.62L385.17 678.85H385.71L386.25 626.79H386.79L387.34 652.82H388.97L389.51 626.79H393.32L393.86 652.82H394.4L394.95 626.79H395.49L396.04 678.85H396.58L397.12 626.79H397.66L398.21 652.82H399.84L400.39 626.79H402.01L402.56 652.82H404.19L404.73 678.85H406.36L406.91 626.79H407.45L408 678.85H408.54L409.08 652.82H410.71L411.26 626.79H411.8L412.34 652.82H413.97L414.52 678.85H416.15L416.69 626.79H417.23L417.78 678.85H418.32L418.87 652.82H420.49L421.04 678.85H421.58L422.13 626.79H422.67L423.22 678.85H425.93L426.48 626.79H427.02L427.56 652.82H428.1L428.65 626.79H429.19L429.74 678.85H431.37L431.91 626.79H432.45L433 652.82H434.63L435.17 626.79H435.71L436.26 678.85H436.8L437.35 652.82H437.89L438.44 626.79H440.06L440.61 678.85H441.15L441.7 626.79H442.24L442.78 652.82H443.32L443.87 626.79H444.41L444.96 652.82H445.5L446.05 626.79H446.59L447.13 678.85H447.67L448.22 652.82H449.85L450.39 626.79H452.02L452.57 678.85H454.2L454.74 652.82H455.28L455.83 678.85H456.37L456.92 652.82H458.54L459.09 626.79H460.72L461.27 652.82H461.81L462.35 626.79H462.89L463.44 652.82H465.07L465.61 626.79H468.33L468.88 652.82H469.42L469.96 678.85H470.5L471.05 652.82H473.76L474.31 626.79H475.94L476.49 678.85H478.11L478.66 626.79H480.29L480.83 678.85H482.46L483.01 652.82H483.55L484.1 678.85H484.64L485.18 652.82H485.72L486.27 678.85H486.81L487.36 626.79H487.9L488.44 652.82H490.07L490.62 626.79H491.16L491.71 652.82H492.25L492.79 626.79H493.33L493.88 652.82H494.42L494.97 678.85H495.51L496.05 652.82H496.59L497.14 678.85H497.68L498.23 652.82H498.77L499.32 678.85H499.86L500.4 626.79H502.03L502.58 652.82H503.12L503.66 678.85H504.2L504.75 652.82H505.29L505.84 678.85H506.38L506.93 626.79H507.47L508.01 678.85H509.64L510.19 652.82H512.9L513.45 626.79H513.99L514.54 652.82H517.25L517.8 626.79H520.51L521.06 678.85H521.6L522.15 626.79H524.86L525.41 652.82H527.03L527.58 678.85H531.38L531.93 652.82H532.47L533.02 626.79H533.56L534.1 678.85H534.64L535.19 626.79H535.73L536.28 652.82H536.82L537.37 626.79H537.91L538.45 678.85H538.99L539.54 626.79H540.08L540.63 601.13H541.17L541.71 626.79H542.25L542.8 678.85H543.34L543.89 652.82H545.52L546.06 626.79H547.69L548.24 678.85H549.86L550.41 652.82H550.95L551.5 678.85H552.04L552.59 652.82H553.13L553.67 626.79H554.21L554.76 652.82H555.3L555.85 626.79H556.39L556.93 652.82H559.65L560.2 678.85H561.82L562.37 626.79H562.91L563.46 678.85H566.17L566.72 652.82H567.26L567.81 678.85H568.35L568.89 652.82H569.43L569.98 626.79H571.61L572.15 652.82H572.69L573.24 626.79H573.78L574.33 652.82H574.87L575.42 626.79H579.22L579.76 652.82H580.3L580.85 626.79H581.39L581.94 652.82H582.48L583.03 678.85H583.57L584.11 652.82H584.65L585.2 678.85H587.91L588.46 626.79H590.09L590.64 678.85H591.18L591.72 652.82H592.26L592.81 678.85H593.35L593.9 626.79H595.52L596.07 678.85H596.61L597.16 626.79H597.7L598.25 652.82H598.79L599.33 678.85H599.87L600.42 626.79H600.96L601.51 678.85H602.05L602.59 626.79H605.31L605.86 652.82H607.48L608.03 678.85H608.57L609.12 626.79H611.83L612.38 652.82H612.92L613.47 678.85H614.01L614.55 652.82H617.27L617.81 626.79H619.44L619.99 678.85H620.53L621.08 626.79H621.62L622.16 678.85H622.7L623.25 652.82H623.79L624.34 626.79H628.14L628.69 652.82H632.49L633.03 626.79H634.66L635.21 678.85H635.75L636.3 626.79H636.84L637.38 652.82H640.1L640.64 626.79H642.27L642.82 652.82H643.36L643.91 678.85H644.45L644.99 626.79H647.71L648.25 678.85H648.79L649.34 626.79H650.97L651.52 652.82H652.06L652.6 678.85H653.14L653.69 600.58H654.23L654.78 626.79H658.58L659.13 678.85H659.67L660.21 652.82H660.75L661.3 626.79H661.84L662.39 678.85H665.1L665.65 626.79H667.28L667.82 652.82H669.45L670 678.85H672.71L673.26 626.79H673.8L674.35 652.82H674.89L675.43 626.79H675.97L676.52 652.82H677.06L677.61 626.79H682.5L683.04 652.82H683.58L684.13 626.79H685.76L686.3 652.82H693.37L693.91 626.79H695.54L696.09 652.82H696.63L697.18 626.79H697.72L698.26 652.82H698.8L699.35 626.79H699.89L700.44 652.82H700.98L701.52 678.85H702.06L702.61 652.82H704.24L704.79 626.79H705.33L705.87 678.85H706.41L706.96 652.82H708.59L709.13 678.85H709.67L710.22 652.82H710.76L711.31 678.85H711.85L712.4 652.82H712.94L713.48 678.85H714.02L714.57 652.82H716.2L716.74 678.85H717.28L717.83 626.79H718.37L718.92 652.82H720.55L721.09 626.79H721.63L722.18 678.85H722.72L723.27 652.82H723.81L724.35 678.85H724.89L725.44 626.79H725.98L726.53 652.82H727.07L727.62 678.85H728.16L728.7 626.79H729.24L729.79 678.85H730.33L730.88 652.82H731.42L731.96 626.79H734.68L735.23 652.82H735.77L736.31 626.79H736.85L737.4 678.85H739.03L739.57 626.79H742.29L742.84 678.85H743.38L743.92 626.79H744.46L745.01 652.82H745.55L746.1 626.79H748.81L749.36 652.82H749.9L750.45 626.79H750.99L751.53 678.85H752.07L752.62 652.82H753.16L753.71 626.79H755.33L755.88 652.82H757.51L758.06 626.79H759.68L760.23 652.82H760.77L761.32 678.85H761.86L762.4 652.82H762.94L763.49 678.85H764.03L764.58 652.82H770.55L771.1 626.79H772.73L773.28 678.85H773.82L774.36 626.79H774.9L775.45 678.85H777.08L777.62 652.82H778.16L778.71 626.79H779.25L779.8 678.85H780.34L780.89 652.82H781.43L781.97 626.79H782.51L783.06 678.85H783.6L784.15 652.82H784.69L785.23 626.79H787.95L788.5 652.82H789.04L789.58 678.85H790.12L790.67 626.79H792.3L792.84 652.82H793.38L793.93 626.79H794.47L795.02 652.82H795.56L796.11 678.85H799.91L800.45 626.79H802.08L802.63 652.82H803.17L803.72 678.85H804.26L804.8 626.79H805.34L805.89 652.82H806.43L806.98 626.79H812.95L813.5 652.82H817.3L817.85 678.85H818.39L818.94 626.79H819.48L820.02 678.85H820.56L821.11 626.79H821.65L822.2 652.82H822.74L823.28 678.85H823.82L824.37 626.79H824.91L825.46 652.82H827.09L827.63 626.79H828.17L828.72 652.82H829.26L829.81 626.79H831.43L831.98 652.82H832.52L833.07 678.85H834.7L835.24 626.79H836.87L837.42 652.82H839.04L839.59 626.79H840.13L840.68 678.85H841.22L841.77 652.82H846.65L847.2 678.85H851L851.55 626.79H852.09L852.64 652.82H853.18L853.72 678.85H854.26L854.81 626.79H855.35L855.9 652.82H856.44L856.99 626.79H860.79L861.33 652.82H861.87L862.42 626.79H862.96L863.51 678.85H864.05L864.6 626.79H866.22L866.77 678.85H867.31L867.86 652.82H868.4L868.94 626.79H870.57L871.12 652.82H871.66L872.21 626.79H873.83L874.38 652.82H876.01L876.55 626.79H877.09L877.64 652.82H879.27L879.82 626.79H882.53L883.08 678.85H883.62L884.16 626.79H886.88L887.43 652.82H887.97L888.51 678.85H889.05L889.6 626.79H890.14L890.69 678.85H891.23L891.77 652.82H892.31L892.86 626.79H893.4L893.95 678.85H894.49L895.04 626.79H895.58L896.12 678.85H896.66L897.21 626.79H897.75L898.3 652.82H899.92L900.47 678.85H902.1L902.65 652.82H903.19L903.73 626.79H904.27L904.82 652.82H905.36L905.91 626.79H906.45L906.99 678.85H907.53L908.08 652.82H908.62L909.17 626.79H910.8L911.34 678.85H911.88L912.43 626.79H912.97L913.52 678.85H914.06L914.6 652.82H917.32L917.87 626.79H922.75L923.3 652.82H923.84L924.39 678.85H924.93L925.48 626.79H926.02L926.56 652.82H927.1L927.65 678.85H930.36L930.91 652.82H935.8L936.35 626.79H940.15L940.7 678.85H941.24L941.78 652.82H942.32L942.87 626.79H943.41L943.96 678.85H944.5L945.04 626.79H945.58L946.13 678.85H946.67L947.22 652.82H948.85L949.39 626.79H949.93L950.48 678.85H951.02L951.57 626.79H953.19L953.74 652.82H954.28L954.83 626.79H956.46L957 652.82H957.54L958.09 626.79H958.63L959.18 678.85H959.72L960.26 652.82H960.8L961.35 626.79H961.89L962.44 652.82H966.24L966.79 678.85H967.33L967.87 626.79H968.41L968.96 678.85H969.5L970.05 652.82H970.59L971.14 626.79H973.85L974.4 678.85H974.94L975.48 652.82H976.02L976.57 626.79H977.11L977.66 652.82H979.29L979.83 678.85H980.37L980.92 626.79H981.46L982.01 678.85H983.63L984.18 626.79H984.72L985.27 652.82H985.81L986.36 626.79H986.9L987.44 652.82H987.98L988.53 626.79H989.07L989.62 678.85H990.16L990.7 626.79H991.24L991.79 678.85H993.42L993.97 652.82H995.59L996.14 678.85H996.68L997.23 626.79H997.77L998.31 652.82H999.94L1000.49 678.85H1001.03L1001.58 652.82H1002.12L1002.66 626.79H1003.2L1003.75 678.85H1007.55L1008.1 652.82H1008.64L1009.19 626.79H1009.73L1010.27 678.85H1014.07L1014.62 626.79H1015.16L1015.71 678.85H1019.51L1020.06 652.82H1020.6L1021.14 678.85H1027.12L1027.67 626.79H1028.21L1028.75 678.85H1029.29L1029.84 652.82H1030.38L1030.93 678.85H1035.82L1036.36 626.79H1036.9L1037.45 652.82H1037.99L1038.54 678.85H1039.08L1039.63 626.79H1040.17L1040.71 678.85H1048.86L1049.41 652.82H1049.95L1050.5 626.79H1051.04L1051.58 678.85H1052.12L1052.67 626.79H1053.21L1053.76 678.85H1056.47L1057.02 626.79H1057.56L1058.11 678.85H1059.73L1060.28 652.82H1060.82L1061.37 678.85H1063L1063.54 626.79H1064.08L1064.63 678.85H1073.87L1074.41 626.79H1074.95L1075.5 652.82H1076.04L1076.59 678.85H1079.3L1079.85 652.82H1080.39L1080.94 678.85H1082.56L1083.11 652.82H1083.65L1084.2 678.85H1084.74L1085.29 652.82H1085.83L1086.37 626.79H1086.91L1087.46 678.85H1090.17L1090.72 626.79H1091.26L1091.81 678.85H1093.44L1093.98 652.82H1094.52L1095.07 678.85H1096.7L1097.24 652.82H1097.78L1098.33 626.79H1098.87L1099.42 678.85H1099.96L1100.51 626.79H1101.05L1101.59 678.85H1107.57L1108.12 652.82H1108.66L1109.2 678.85H1109.74L1110.29 652.82H1110.83L1111.38 678.85H1115.18L1115.73 652.82H1116.27L1116.81 678.85H1118.44L1118.99 652.82H1119.53L1120.07 626.79H1121.7L1122.25 678.85H1122.79L1123.34 626.79H1126.05L1126.6 678.85H1134.75L1135.29 652.82H1135.83L1136.38 626.79H1136.92L1137.47 678.85H1138.01L1138.56 652.82H1140.18L1140.73 678.85H1141.27L1141.82 652.82H1142.36L1142.9 626.79H1143.44L1143.99 678.85H1145.62L1146.17 626.79H1146.71L1147.25 652.82H1147.79L1148.34 678.85H1148.88L1149.43 652.82H1149.97L1150.51 678.85H1154.32L1154.86 626.79H1155.4L1155.95 652.82H1156.49L1157.04 678.85H1158.66L1159.21 626.79H1159.75L1160.3 678.85H1163.01L1163.56 626.79H1165.19L1165.73 678.85H1166.27L1166.82 626.79H1168.45L1169 678.85H1170.62L1171.17 626.79H1171.71L1172.26 678.85H1172.8L1173.34 652.82H1173.88L1174.43 678.85H1179.32L1179.87 652.82H1181.49L1182.04 678.85H1182.58L1183.13 626.79H1183.67L1184.22 678.85H1185.84L1186.39 652.82H1188.02L1188.56 678.85H1189.1L1189.65 626.79H1190.19L1190.74 652.82H1191.28L1191.83 678.85H1192.37L1192.91 652.82H1194.54L1195.09 678.85H1195.63L1196.17 652.82H1196.71L1197.26 678.85H1199.98L1200.52 652.82H1202.15L1202.7 678.85H1204.32L1204.87 652.82H1205.41L1205.96 626.79H1206.5L1207.05 652.82H1207.59L1208.13 626.79H1208.67L1209.22 678.85H1211.93L1212.48 626.79H1215.2L1215.74 652.82H1216.28L1216.83 626.79H1217.37L1217.92 678.85H1219.54L1220.09 626.79H1220.63L1221.18 678.85H1227.15L1227.7 652.82H1228.24L1228.79 678.85H1234.76L1235.31 652.82H1238.03L1238.57 678.85H1245.64L1246.18 626.79H1246.72L1247.27 678.85H1247.81L1248.36 626.79H1248.9L1249.44 678.85H1251.07L1251.62 626.79H1252.16L1252.71 678.85H1254.33L1254.88 626.79H1255.42L1255.97 678.85H1260.86L1261.4 652.82H1261.94L1262.49 678.85H1264.12L1264.66 626.79H1266.29L1266.84 652.82H1267.38L1267.93 609.89H1268.47L1269.01 652.82H1269.55L1270.1 678.85H1277.16L1277.71 626.79H1278.25L1278.8 678.85H1279.34L1279.88 626.79H1281.51L1282.06 678.85H1284.77L1285.32 652.82H1285.86L1286.41 678.85H1290.21L1290.76 626.79H1292.38L1292.93 678.85H1295.64L1296.19 652.82H1296.73L1297.28 626.79H1297.82L1298.37 678.85H1298.91L1299.45 652.82H1299.99L1300.54 678.85H1301.08L1301.63 626.79H1302.17L1302.71 678.85H1310.86L1311.41 626.79H1311.95L1312.5 678.85H1313.04L1313.59 626.79H1315.21L1315.76 678.85H1316.3L1316.85 652.82H1317.39L1317.93 678.85H1322.82L1323.37 652.82H1325L1325.54 678.85H1326.08L1326.63 626.79H1327.17L1327.72 678.85H1329.35L1329.89 626.79H1330.43L1330.98 678.85H1333.69L1334.24 652.82H1334.78L1335.33 678.85H1335.87L1336.42 652.82H1336.96L1337.5 678.85H1339.13L1339.68 652.82H1340.22L1340.76 678.85H1342.39L1342.94 626.79H1343.48L1344.03 678.85H1346.74L1347.29 652.82H1347.83L1348.37 678.85H1352.18L1352.72 626.79H1353.26L1353.81 678.85H1354.35L1354.9 626.79H1355.44L1355.98 678.85H1357.61L1358.16 652.82H1358.7L1359.25 626.79H1359.79L1360.33 678.85H1360.87L1361.42 626.79H1361.96L1362.51 678.85H1364.13L1364.68 652.82H1365.22L1365.77 626.79H1366.31L1366.86 652.82H1367.4L1367.94 626.79H1368.48L1369.03 678.85H1369.57L1370.12 626.79H1370.66L1371.2 678.85H1371.74L1372.29 652.82H1372.83L1373.38 678.85H1375.01L1375.55 626.79H1376.09L1376.64 678.85H1380.44L1380.99 652.82H1381.53L1382.08 626.79H1382.62L1383.16 678.85H1384.79L1385.34 626.79H1386.96L1387.51 652.82H1388.05L1388.6 605.23H1389.14L1389.69 652.82H1390.23L1390.77 678.85H1396.75L1397.3 626.79H1397.84L1398.38 678.85H1398.92L1399.47 626.79H1400.01L1400.56 678.85H1401.1L1401.64 652.82H1402.18L1402.73 678.85H1403.27L1403.82 652.82H1404.36L1404.91 678.85H1410.88L1411.43 626.79H1413.06L1413.6 678.85H1420.67L1421.21 652.82H1421.75L1422.3 678.85H1422.84L1423.39 652.82H1423.93L1424.47 678.85H1435.89L1436.43 626.79H1438.06L1438.61 678.85H1444.58L1445.13 626.79H1446.76L1447.3 678.85H1450.02L1450.57 626.79H1451.11L1451.65 678.85H1452.19L1452.74 652.82H1453.28L1453.83 678.85H1454.37L1454.91 600.58H1455.45L1456 626.79H1456.54L1457.09 678.85H1459.8L1460.35 626.79H1460.89L1461.44 678.85H1464.15L1464.7 626.79H1466.33L1466.87 678.85H1467.41L1467.96 652.82H1468.5L1469.05 626.79H1470.67L1471.22 678.85H1475.02L1475.57 626.79H1476.11L1476.66 678.85H1481.55L1482.09 652.82H1482.63L1483.18 678.85H1493.5L1494.05 652.82H1494.59L1495.14 678.85H1497.85L1498.4 626.79H1500.03L1500.57 678.85H1502.2L1502.75 652.82H1503.29L1503.84 678.85H1504.38L1504.92 626.79H1505.46L1506.01 678.85H1507.64L1508.18 652.82H1508.72L1509.27 678.85H1510.9L1511.45 626.79H1511.99L1512.53 678.85H1514.16L1514.71 626.79H1515.25L1515.79 652.82H1516.33L1516.88 678.85H1519.6L1520.14 626.79H1521.77L1522.32 678.85H1525.03L1525.58 652.82H1526.12L1526.67 678.85H1529.38L1529.93 652.82H1530.47L1531.01 678.85H1531.55L1532.1 652.82H1532.64L1533.19 626.79H1533.73L1534.28 678.85H1535.9L1536.45 652.82H1538.08L1538.62 626.79H1539.16L1539.71 678.85H1541.34L1541.89 626.79H1542.43L1542.97 678.85H1544.6L1545.15 626.79H1545.69L1546.23 678.85H1546.77L1547.32 652.82H1547.86L1548.41 626.79H1548.95L1549.5 678.85H1550.04L1550.58 626.79H1551.12L1551.67 652.82H1552.21L1552.76 678.85H1554.38L1554.93 626.79H1555.47L1556.02 678.85H1556.56L1557.11 652.82H1557.65L1558.19 678.85H1565.26L1565.8 626.79H1566.34L1566.89 678.85H1567.43L1567.98 626.79H1568.52L1569.06 678.85H1569.6L1570.15 652.82H1571.78L1572.33 626.79H1572.87L1573.41 678.85H1573.95L1574.5 626.79H1575.04L1575.59 678.85H1576.13L1576.67 626.79H1577.21L1577.76 652.82H1579.39L1579.94 678.85H1580.48L1581.02 626.79H1581.56L1582.11 678.85H1582.65L1583.2 652.82H1583.74L1584.28 678.85H1585.91L1586.46 652.82H1587L1587.55 678.85H1588.09L1588.63 617.35H1589.17L1589.72 678.85H1590.26L1590.81 626.79H1591.35L1591.89 678.85H1593.52L1594.07 652.82H1594.61L1595.16 626.79H1595.7L1596.24 678.85H1596.78L1597.33 626.79H1597.87L1598.42 652.82H1598.96L1599.5 626.79H1600.04L1600.59 678.85H1603.31L1603.85 652.82H1605.48L1606.03 678.85H1606.57L1607.11 652.82H1608.74L1609.29 678.85H1609.83L1610.38 652.82H1610.92L1611.46 678.85H1612L1612.55 626.79H1613.09L1613.64 652.82H1614.18L1614.72 678.85H1615.26L1615.81 652.82H1616.35L1616.9 678.85H1617.44L1617.99 652.82H1618.53L1619.07 678.85H1621.79L1622.33 652.82H1622.87L1623.42 678.85H1625.05L1625.6 652.82H1626.14L1626.68 626.79H1627.22L1627.77 678.85H1628.31L1628.86 652.82H1630.48L1631.03 626.79H1631.57L1632.12 678.85H1640.27L1640.82 619.21H1641.36L1641.9 678.85H1643.53L1644.08 626.79H1644.62L1645.16 652.82H1645.7L1646.25 626.79H1646.79L1647.34 678.85H1650.05L1650.6 626.79H1652.23L1652.77 678.85H1654.4L1654.95 626.79H1656.58L1657.12 678.85H1658.75L1659.3 626.79H1659.84L1660.38 652.82H1662.01L1662.56 678.85H1667.45L1667.99 652.82H1668.53L1669.08 678.85H1671.8L1672.34 626.79H1673.97L1674.52 678.85H1678.32L1678.87 652.82H1679.41L1679.95 678.85H1680.49L1681.04 626.79H1681.58L1682.13 678.85H1687.02L1687.56 652.82H1688.1L1688.65 678.85H1690.28L1690.82 652.82H1691.36L1691.91 626.79H1692.45L1693 678.85H1704.41L1704.96 626.79H1705.5L1706.04 678.85H1708.76L1709.31 626.79H1710.93L1711.48 678.85H1713.11L1713.65 626.79H1714.19L1714.74 678.85H1715.28L1715.83 652.82H1716.37L1716.92 678.85H1717.46L1718 652.82H1718.54L1719.09 626.79H1719.63L1720.18 678.85H1720.72L1721.26 652.82H1721.8L1722.35 678.85H1722.89L1723.44 626.79H1723.98L1724.53 652.82H1725.07L1725.61 626.79H1726.15L1726.7 652.82H1727.24L1727.79 678.85H1728.33L1728.87 652.82H1729.41L1729.96 678.85H1732.68L1733.22 626.79H1733.76L1734.31 678.85H1734.85L1735.4 626.79H1735.94L1736.48 652.82H1737.02L1737.57 678.85H1739.2L1739.75 652.82H1740.29L1740.83 678.85H1742.46L1743.01 610.82H1743.55L1744.09 652.82H1744.63L1745.18 678.85H1746.81L1747.36 652.82H1747.9L1748.44 678.85H1754.42L1754.97 652.82H1755.51L1756.05 678.85H1756.59L1757.14 626.79H1757.68L1758.23 678.85H1765.29L1765.84 626.79H1766.38L1766.92 678.85H1768.55L1769.1 626.79H1769.64L1770.19 678.85H1771.81L1772.36 652.82H1772.9L1773.45 626.79H1773.99L1774.53 652.82H1777.25L1777.8 678.85H1778.34L1778.88 603.37H1779.42L1779.97 678.85H1781.6L1782.14 626.79H1783.77L1784.32 678.85H1784.86L1785.41 652.82H1785.95L1786.49 678.85H1787.03L1787.58 652.82H1788.12L1788.67 678.85H1790.29L1790.84 626.79H1792.47L1793.02 678.85H1793.56L1794.1 601.51H1794.64L1795.19 652.82H1795.73L1796.28 604.3H1796.82L1797.36 652.82H1797.9L1798.45 678.85H1798.99L1799.54 652.82H1801.17L1801.71 678.85H1803.34L1803.89 626.79H1804.43L1804.97 678.85H1807.69L1808.24 626.79H1810.95L1811.5 678.85H1815.3L1815.85 626.79H1816.39L1816.93 652.82H1818.56L1819.11 678.85H1820.73L1821.28 626.79H1821.82L1822.37 678.85H1824L1824.54 652.82H1825.08L1825.63 678.85H1826.17L1826.72 652.82H1827.26L1827.8 601.51H1828.34L1828.89 678.85H1830.52L1831.07 626.79H1832.69L1833.24 678.85H1838.13L1838.68 626.79H1839.22L1839.76 678.85H1840.3L1840.85 626.79H1841.39L1841.94 678.85H1842.48L1843.02 652.82H1844.65L1845.2 678.85H1850.09L1850.63 626.79H1851.17L1851.72 652.82H1852.26L1852.81 678.85H1854.44L1854.98 652.82H1855.52L1856.07 678.85H1860.96L1861.51 652.82H1862.05L1862.59 678.85H1864.22L1864.77 626.79H1865.31L1865.85 678.85H1866.39L1866.94 652.82H1867.48L1868.03 678.85H1872.92L1873.46 602.44H1874L1874.55 626.79H1876.18L1876.73 678.85H1878.35L1878.9 626.79H1880.53L1881.07 678.85H1888.14L1888.68 652.82H1893.57L1894.12 626.79H1894.66L1895.21 678.85H1895.75L1896.29 626.79H1896.83L1897.38 678.85H1899.01L1899.56 626.79H1900.1L1900.64 652.82H1902.27L1902.82 626.79H1903.36L1903.9 678.85H1904.44L1904.99 626.79H1906.62L1907.17 678.85H1912.05L1912.6 652.82H1913.14L1913.69 678.85H1915.32L1915.86 652.82H1916.4L1916.95 678.85H1917.49L1918.04 652.82H1920.75L1921.3 626.66H1921.84L1922.39 678.85H1924.01L1924.56 652.82H1925.1L1925.65 678.85H1927.27L1927.82 652.82H1928.36L1928.91 678.85H1930.54L1931.08 626.66H1931.62L1932.17 626.79H1932.71L1933.26 678.85H1933.8L1934.34 652.82H1934.88L1935.43 678.85H1938.15L1938.69 652.82H1940.32L1940.87 678.85H1942.49L1943.04 652.82H1943.58L1944.13 678.85H1944.67L1945.22 652.82H1945.76L1946.3 678.85H1946.84L1947.39 652.82H1947.93L1948.48 678.85H1951.19L1951.74 652.82H1955.54L1956.09 626.66H1956.63L1957.17 652.82H1957.71L1958.26 678.85H1966.41L1966.96 652.82H1967.5L1968.05 678.85H1968.59L1969.13 652.82H1969.67L1970.22 678.85H1970.76L1971.31 652.82H1971.85L1972.39 678.85H1972.93L1973.48 652.82H1974.02L1974.57 631.32H1975.11L1975.66 652.82H1976.2L1976.74 678.85H1978.37L1978.92 652.82H1979.46L1980 678.85H1981.63L1982.18 652.82H1984.89L1985.44 678.85H1985.98L1986.53 652.82H1989.24L1989.79 678.85H2003.37L2003.92 652.82H2005.55L2006.1 678.85H2007.72L2008.27 652.82H2010.98L2011.53 678.85H2012.07L2012.62 652.82H2013.16L2013.71 678.85H2015.33L2015.88 652.82H2016.42L2016.97 678.85H2017.51L2018.05 652.82H2018.59L2019.14 678.85H2022.94L2023.49 652.82H2024.03L2024.58 678.85H2025.12L2025.66 652.82H2026.2L2026.75 678.85H2027.29L2027.84 652.82H2028.38L2028.93 678.85H2031.64L2032.19 652.82H2032.73L2033.27 678.85H2034.9L2035.45 652.82H2037.08L2037.62 678.85H2038.16L2038.71 652.82H2040.34L2040.88 678.85H2046.86L2047.41 652.82H2047.95L2048.49 678.85H2050.12L2050.67 652.82H2051.21L2051.76 678.85H2053.38L2053.93 652.82H2054.47L2055.02 678.85H2056.64L2057.19 652.82H2057.73L2058.28 678.85H2059.91L2060.45 652.82H2060.99L2061.54 678.85H2064.25L2064.8 652.82H2067.52L2068.06 678.85H2069.69L2070.24 652.82H2070.78L2071.32 678.85H2071.86L2072.41 652.82H2072.95L2073.5 678.85H2077.3L2077.85 652.82H2078.39L2078.93 678.85H2082.74L2083.28 652.82H2087.08L2087.63 678.85H2088.17L2088.72 652.82H2089.26L2089.81 678.85H2092.52L2093.07 652.82H2093.61L2094.15 678.85H2095.78L2096.33 652.82H2096.87L2097.42 678.85H2097.96L2098.5 652.82H2099.04L2099.59 678.85H2101.22L2101.76 627.59H2102.3L2102.85 652.82H2103.39L2103.94 678.85H2113.18L2113.72 652.82H2115.35L2115.9 678.85H2118.61L2119.16 652.82H2120.79L2121.33 678.85H2122.96L2123.51 652.82H2125.13L2125.68 678.85H2126.22L2126.77 652.82H2127.31L2127.86 678.85H2132.74L2133.29 652.82H2133.83L2134.38 678.85H2136.01L2136.55 652.82H2138.18L2138.73 678.85H2139.27L2139.81 652.82H2140.35L2140.9 678.85H2142.53L2143.08 652.82H2143.62L2144.16 678.85H2146.88L2147.42 652.82H2147.96L2148.51 678.85H2155.57L2156.12 652.82H2158.84L2159.38 678.85H2159.92L2160.47 652.82H2161.01L2161.56 627.59H2162.1L2162.64 678.85H2165.36L2165.91 652.82H2168.62L2169.17 678.85H2169.71L2170.25 652.82H2170.79L2171.34 678.85H2175.14L2175.69 652.82H2176.23L2176.78 678.85H2181.67L2182.21 652.82H2183.84L2184.39 678.85H2188.19L2188.74 652.82H2189.28L2189.82 678.85H2190.36L2190.91 652.82H2191.45L2192 678.85H2192.54L2193.08 652.82H2195.8L2196.35 678.85H2197.97L2198.52 652.82H2200.15L2200.69 678.85H2202.32L2202.87 652.82H2203.41L2203.96 678.85H2204.5L2205.04 652.82H2206.67L2207.22 678.85H2207.76L2208.3 652.82H2208.84L2209.39 678.85H2209.93L2210.48 652.82H2211.02L2211.57 678.85H2212.11L2212.65 632.81H2213.19L2213.74 678.85H2215.37L2215.91 652.82H2218.63L2219.18 678.85H2219.72L2220.26 652.82H2221.89L2222.44 678.85H2225.15L2225.7 652.82H2227.33L2227.87 678.85H2228.41L2228.96 652.82H2230.59L2231.13 626.66H2231.67L2232.22 652.82H2232.76L2233.31 678.85H2233.85L2234.4 652.82H2234.94L2235.48 678.85H2239.28L2239.83 652.82H2240.37L2240.92 678.85H2242.55L2243.09 652.82H2243.63L2244.18 678.85H2245.81L2246.35 626.66H2246.89L2247.44 678.85H2254.5L2255.05 652.82H2259.94L2260.49 678.85H2265.38L2265.92 652.82H2266.46L2267.01 678.85H2267.55L2268.1 652.82H2268.64L2269.18 678.85H2270.81L2271.36 652.82H2271.9L2272.45 678.85H2275.16L2275.71 652.82H2277.33L2277.88 678.85H2278.42L2278.97 652.82H2280.6L2281.14 678.85H2290.38L2290.93 652.82H2296.9L2297.45 678.85H2297.99L2298.54 652.82H2300.16L2300.71 678.85H2301.25L2301.8 652.82H2302.34L2302.89 678.85H2303.43L2303.97 652.82H2304.51L2305.06 678.85H2305.6L2306.15 652.82H2306.69L2307.23 678.85H2312.12L2312.67 652.82H2314.3L2314.84 626.66H2315.38L2315.93 678.85H2319.73L2320.28 652.82H2320.82L2321.37 678.85H2324.08L2324.63 652.82H2325.17L2325.72 678.85H2328.43L2328.98 652.82H2329.52L2330.06 678.85H2332.78L2333.33 652.82H2333.87L2334.41 629.46H2334.95L2335.5 652.82H2336.04L2336.59 678.85H2339.3L2339.85 652.82H2340.39L2340.94 678.85H2341.48L2342.02 652.82H2345.82L2346.37 678.85H2350.17L2350.72 652.82H2351.26L2351.81 678.85H2353.43L2353.98 652.82H2354.52L2355.07 626.66H2355.61L2356.16 652.82H2356.7L2357.24 678.85H2357.78L2358.33 627.59H2358.87L2359.42 678.85H2361.04L2361.59 652.82H2362.13L2362.68 678.85H2363.22L2363.77 652.82H2364.31L2364.85 678.85H2365.39L2365.94 652.82H2366.48L2367.03 678.85H2368.65L2369.2 652.82H2369.74L2370.29 678.85H2371.92L2372.46 652.82H2373L2373.55 678.85H2375.18L2375.72 652.82H2376.26L2376.81 678.85H2381.7L2382.25 652.82H2386.05L2386.6 678.85H2391.48L2392.03 652.82H2392.57L2393.12 678.85H2394.75L2395.29 652.82H2396.92"/>
<path class="s" stroke="#dba657" d="M75.33 678.85H316.13L316.68 574.86H317.22L317.76 678.85H334.61L335.16 652.82H335.7L336.24 678.85H342.22L342.77 627.22H343.31L343.85 678.85H360.7L361.25 601.13H361.79L362.34 678.85H378.1L378.64 627.22H379.18L379.73 678.85H403.1L403.65 603.93H404.19L404.73 678.85H406.36L406.91 628.53H407.45L408 678.85H408.54L409.08 652.82H409.62L410.17 678.85H425.93L426.48 626.66H427.02L427.56 678.85H455.28L455.83 652.82H457.46L458 678.85H479.2L479.75 652.82H480.29L480.83 678.85H481.37L481.92 652.82H482.46L483.01 678.85H505.29L505.84 558.95H506.38L506.93 678.85H547.69L548.24 652.82H548.78L549.32 678.85H556.39L556.93 652.82H557.47L558.02 678.85H559.65L560.2 652.82H560.74L561.28 678.85H569.43L569.98 600.58H570.52L571.07 678.85H609.66L610.2 629.08H610.74L611.29 678.85H612.92L613.47 652.82H614.01L614.55 678.85H647.71L648.25 548.7H648.79L649.34 678.85H655.32L655.86 652.82H657.49L658.04 678.85H671.62L672.17 629.46H672.71L673.26 678.85H686.84L687.39 600.58H687.93L688.48 678.85H696.63L697.18 652.82H697.72L698.26 678.85H706.41L706.96 551.45H707.5L708.05 678.85H708.59L709.13 627.59H709.67L710.22 678.85H720.55L721.09 652.82H721.63L722.18 678.85H745.55L746.1 652.82H746.64L747.18 678.85H810.78L811.33 652.82H811.87L812.41 678.85H819.48L820.02 652.82H820.56L821.11 678.85H848.83L849.38 652.82H849.92L850.46 678.85H889.05L889.6 652.82H890.14L890.69 678.85H899.92L900.47 550.2H901.01L901.56 678.85H947.76L948.31 652.82H948.85L949.39 678.85H968.41L968.96 652.82H969.5L970.05 678.85H973.85L974.4 652.82H974.94L975.48 678.85H1001.03L1001.58 603.37H1002.12L1002.66 678.85H1009.73L1010.27 652.82H1010.81L1011.36 678.85H1015.16L1015.71 652.82H1016.25L1016.8 678.85H1024.95L1025.49 652.82H1026.03L1026.58 678.85H1052.12L1052.67 555.7H1053.21L1053.76 678.85H1054.3L1054.85 549.7H1055.39L1055.93 678.85H1057.56L1058.11 499.7H1058.65L1059.19 678.85H1060.82L1061.37 652.82H1063L1063.54 678.85H1065.17L1065.72 574.49H1066.26L1066.8 678.85H1072.78L1073.33 495.7H1073.87L1074.41 678.85H1074.95L1075.5 626.66H1076.04L1076.59 678.85H1095.61L1096.16 603.74H1096.7L1097.24 652.82H1097.78L1098.33 678.85H1119.53L1120.07 628.53H1120.61L1121.16 678.85H1139.1L1139.64 548.2H1140.18L1140.73 678.85H1149.97L1150.51 652.82H1151.05L1151.6 678.85H1160.84L1161.39 652.82H1161.93L1162.47 678.85H1201.06L1201.61 565.17H1202.15L1202.7 678.85H1204.32L1204.87 652.82H1205.41L1205.96 678.85H1208.67L1209.22 626.66H1209.76L1210.31 678.85H1219.54L1220.09 626.66H1220.63L1221.18 678.85H1227.15L1227.7 510.2H1228.24L1228.79 678.85H1231.5L1232.05 399.45H1232.59L1233.14 678.85H1234.76L1235.31 652.82H1235.85L1236.4 678.85H1241.29L1241.83 652.82H1242.37L1242.92 678.85H1247.81L1248.36 652.82H1248.9L1249.44 678.85H1266.29L1266.84 652.82H1267.38L1267.93 678.85H1268.47L1269.01 652.82H1269.55L1270.1 678.85H1272.81L1273.36 652.82H1273.9L1274.45 678.85H1276.08L1276.62 652.82H1277.16L1277.71 678.85H1281.51L1282.06 652.82H1282.6L1283.15 678.85H1284.77L1285.32 652.82H1285.86L1286.41 600.58H1286.95L1287.49 678.85H1295.64L1296.19 652.82H1296.73L1297.28 678.85H1305.43L1305.98 652.82H1306.52L1307.06 678.85H1325L1325.54 495.7H1326.08L1326.63 678.85H1328.26L1328.81 548.2H1329.35L1329.89 678.85H1330.43L1330.98 652.82H1331.52L1332.07 678.85H1336.96L1337.5 626.66H1338.04L1338.59 678.85H1339.13L1339.68 652.82H1340.22L1340.76 678.85H1344.57L1345.11 652.82H1345.65L1346.2 678.85H1348.91L1349.46 652.82H1350L1350.55 562.75H1351.09L1351.64 652.82H1352.18L1352.72 678.85H1355.44L1355.98 652.82H1358.7L1359.25 678.85H1361.96L1362.51 627.97H1363.05L1363.59 678.85H1378.27L1378.81 652.82H1379.35L1379.9 678.85H1380.44L1380.99 652.82H1381.53L1382.08 678.85H1392.4L1392.95 629.46H1393.49L1394.03 678.85H1398.92L1399.47 652.82H1400.01L1400.56 627.59H1401.1L1401.64 678.85H1431.54L1432.08 652.82H1432.62L1433.17 678.85H1466.33L1466.87 522.95H1467.41L1467.96 678.85H1483.72L1484.27 652.82H1485.89L1486.44 678.85H1497.85L1498.4 652.82H1498.94L1499.49 678.85H1518.51L1519.06 652.82H1519.6L1520.14 678.85H1521.77L1522.32 652.82H1522.86L1523.4 678.85H1526.12L1526.67 652.82H1527.21L1527.75 678.85H1531.55L1532.1 522.95H1532.64L1533.19 678.85H1539.16L1539.71 652.82H1540.25L1540.8 678.85H1544.6L1545.15 579.15H1545.69L1546.23 678.85H1555.47L1556.02 652.82H1556.56L1557.11 678.85H1570.69L1571.24 600.58H1571.78L1572.33 678.85H1582.65L1583.2 652.82H1583.74L1584.28 678.85H1603.31L1603.85 652.82H1604.39L1604.94 678.85H1607.65L1608.2 557.7H1608.74L1609.29 678.85H1612L1612.55 652.82H1613.09L1613.64 678.85H1614.18L1614.72 652.82H1615.26L1615.81 678.85H1616.35L1616.9 574.49H1617.44L1617.99 678.85H1628.31L1628.86 535.7H1629.4L1629.94 678.85H1630.48L1631.03 575.42H1631.57L1632.12 678.85H1637.01L1637.55 652.82H1638.09L1638.64 678.85H1639.18L1639.73 652.82H1640.27L1640.82 678.85H1646.79L1647.34 600.58H1647.88L1648.43 678.85H1665.27L1665.82 652.82H1666.36L1666.91 678.85H1668.53L1669.08 652.82H1669.62L1670.17 678.85H1671.8L1672.34 652.82H1672.88L1673.43 678.85H1673.97L1674.52 652.82H1675.06L1675.6 678.85H1681.58L1682.13 652.82H1682.67L1683.21 678.85H1693.54L1694.09 632.25H1694.63L1695.17 678.85H1707.67L1708.22 610.45H1708.76L1709.31 678.85H1710.93L1711.48 603H1712.02L1712.57 678.85H1732.68L1733.22 575.79H1733.76L1734.31 678.85H1740.29L1740.83 652.82H1741.37L1741.92 678.85H1760.94L1761.49 652.82H1762.03L1762.58 678.85H1785.95L1786.49 652.82H1787.03L1787.58 678.85H1804.43L1804.97 652.82H1805.51L1806.06 678.85H1806.6L1807.15 652.82H1807.69L1808.24 678.85H1809.86L1810.41 578.59H1810.95L1811.5 678.85H1813.12L1813.67 652.82H1814.21L1814.76 678.85H1817.47L1818.02 652.82H1818.56L1819.11 678.85H1838.13L1838.68 652.82H1839.22L1839.76 678.85H1875.09L1875.64 652.82H1876.18L1876.73 678.85H1884.88L1885.42 652.82H1885.96L1886.51 678.85H1901.18L1901.73 652.82H1902.27L1902.82 678.85H1903.36L1903.9 652.82H1904.44L1904.99 678.85H1913.14L1913.69 652.82H1914.23L1914.78 678.85H1915.32L1915.86 550.7H1916.4L1916.95 678.85H1920.75L1921.3 652.82H1921.84L1922.39 678.85H1953.37L1953.91 447.95H1954.45L1955 678.85H1988.15L1988.7 652.82H1990.33L1990.88 678.85H1991.42L1991.96 652.82H1992.5L1993.05 678.85H1995.76L1996.31 652.82H1996.85L1997.4 678.85H2003.37L2003.92 626.66H2004.46L2005.01 678.85H2251.24L2251.79 652.82H2252.33L2252.88 678.85H2396.92"/>
<path class="s" stroke="#71db57" d="M75.33 678.85H81.31L81.85 652.82H82.39L82.94 678.85H99.79L100.33 652.82H101.96L102.51 678.85H109.57L110.12 652.82H110.66L111.21 678.85H115.01L115.55 652.82H116.09L116.64 678.85H124.79L125.34 652.82H125.88L126.43 678.85H131.31L131.86 652.82H132.4L132.95 678.85H147.62L148.17 652.82H148.71L149.26 678.85H156.32L156.87 436.7H157.41L157.95 443.96H158.49L159.04 678.85H163.93L164.48 417.2H165.02L165.56 678.85H172.63L173.17 652.82H173.71L174.26 678.85H179.15L179.7 652.82H180.24L180.78 678.85H181.32L181.87 652.82H183.5L184.04 678.85H198.72L199.26 652.82H199.8L200.35 678.85H205.24L205.79 652.82H206.33L206.87 678.85H228.07L228.62 442.7H229.16L229.7 678.85H233.51L234.05 652.82H234.59L235.14 678.85H247.64L248.19 652.82H248.73L249.27 678.85H251.99L252.53 652.82H253.07L253.62 678.85H263.95L264.49 652.82H265.03L265.58 678.85H269.38L269.93 652.82H270.47L271.02 678.85H275.9L276.45 652.82H279.17L279.71 678.85H283.51L284.06 652.82H284.6L285.15 678.85H287.86L288.41 652.82H288.95L289.5 678.85H297.65L298.19 652.82H298.73L299.28 678.85H302L302.54 406.45H303.08L303.63 678.85H305.26L305.8 652.82H306.34L306.89 678.85H311.78L312.33 652.82H312.87L313.41 678.85H319.39L319.94 652.82H320.48L321.02 678.85H329.17L329.72 652.82H331.35L331.9 678.85H340.05L340.59 652.82H341.13L341.68 678.85H342.22L342.77 652.82H343.31L343.85 678.85H353.09L353.64 652.82H354.18L354.73 678.85H357.44L357.99 652.82H358.53L359.07 678.85H359.61L360.16 652.82H363.96L364.51 678.85H372.66L373.21 582.87H373.75L374.29 678.85H374.83L375.38 652.82H375.92L376.47 678.85H381.36L381.9 652.82H382.44L382.99 678.85H390.05L390.6 652.82H391.14L391.69 678.85H409.62L410.17 652.82H410.71L411.26 678.85H420.49L421.04 652.82H421.58L422.13 678.85H423.76L424.3 652.82H424.84L425.39 678.85H428.1L428.65 652.82H430.28L430.83 678.85H431.37L431.91 652.82H433.54L434.09 678.85H440.06L440.61 630.39H441.15L441.7 652.82H442.24L442.78 678.85H443.32L443.87 652.82H444.41L444.96 678.85H448.76L449.31 652.82H449.85L450.39 678.85H456.37L456.92 652.82H458.54L459.09 678.85H459.63L460.18 652.82H461.81L462.35 678.85H475.94L476.49 652.82H479.2L479.75 678.85H487.9L488.44 652.82H488.98L489.53 678.85H491.16L491.71 652.82H492.25L492.79 678.85H504.2L504.75 652.82H505.29L505.84 678.85H506.38L506.93 652.82H507.47L508.01 678.85H511.81L512.36 652.82H512.9L513.45 678.85H513.99L514.54 652.82H515.08L515.62 678.85H533.56L534.1 652.82H534.64L535.19 678.85H535.73L536.28 652.82H536.82L537.37 678.85H543.34L543.89 652.82H544.43L544.98 678.85H545.52L546.06 585.67H546.6L547.15 678.85H547.69L548.24 652.82H548.78L549.32 678.85H552.04L552.59 652.82H553.13L553.67 678.85H585.74L586.29 652.82H586.83L587.37 678.85H594.44L594.98 575.42H595.52L596.07 678.85H612.92L613.47 652.82H614.01L614.55 678.85H631.4L631.95 652.82H632.49L633.03 678.85H635.75L636.3 652.82H636.84L637.38 678.85H644.45L644.99 575.05H645.53L646.08 678.85H652.06L652.6 652.82H653.14L653.69 678.85H657.49L658.04 652.82H658.58L659.13 678.85H671.62L672.17 652.82H672.71L673.26 678.85H674.89L675.43 652.82H678.15L678.69 678.85H680.32L680.87 652.82H681.41L681.96 678.85H682.5L683.04 652.82H683.58L684.13 678.85H684.67L685.22 652.82H685.76L686.3 678.85H686.84L687.39 652.82H687.93L688.48 678.85H691.19L691.74 627.59H692.28L692.83 678.85H695.54L696.09 652.82H696.63L697.18 678.85H699.89L700.44 652.82H700.98L701.52 678.85H707.5L708.05 652.82H708.59L709.13 678.85H709.67L710.22 652.82H710.76L711.31 678.85H722.72L723.27 652.82H723.81L724.35 678.85H730.33L730.88 652.82H732.5L733.05 678.85H742.29L742.84 652.82H743.38L743.92 678.85H745.55L746.1 652.82H746.64L747.18 678.85H754.25L754.79 652.82H755.33L755.88 678.85H756.42L756.97 652.82H757.51L758.06 678.85H758.6L759.14 652.82H759.68L760.23 678.85H761.86L762.4 627.22H762.94L763.49 678.85H779.25L779.8 652.82H780.34L780.89 678.85H791.21L791.76 652.82H792.3L792.84 678.85H794.47L795.02 652.82H796.65L797.19 678.85H804.26L804.8 652.82H806.43L806.98 678.85H809.69L810.24 652.82H810.78L811.33 678.85H814.04L814.59 652.82H815.13L815.67 678.85H818.39L818.94 652.82H819.48L820.02 678.85H826L826.55 652.82H827.09L827.63 678.85H828.17L828.72 652.82H830.35L830.89 678.85H844.48L845.03 652.82H845.57L846.11 678.85H847.74L848.29 652.82H848.83L849.38 678.85H857.53L858.07 652.82H858.61L859.16 678.85H860.79L861.33 652.82H861.87L862.42 678.85H862.96L863.51 652.82H864.05L864.6 678.85H866.22L866.77 652.82H867.31L867.86 678.85H871.66L872.21 652.82H873.83L874.38 678.85H878.18L878.73 652.82H879.27L879.82 678.85H882.53L883.08 652.82H883.62L884.16 678.85H886.88L887.43 652.82H887.97L888.51 678.85H889.05L889.6 652.82H890.14L890.69 678.85H893.4L893.95 652.82H895.58L896.12 678.85H896.66L897.21 652.82H897.75L898.3 678.85H898.84L899.38 652.82H899.92L900.47 678.85H904.27L904.82 652.82H905.36L905.91 678.85H917.32L917.87 652.82H918.41L918.95 678.85H921.67L922.21 652.82H922.75L923.3 678.85H924.93L925.48 652.82H926.02L926.56 678.85H928.19L928.74 652.82H929.28L929.82 678.85H930.36L930.91 652.82H932.54L933.09 678.85H934.71L935.26 652.82H935.8L936.35 678.85H937.97L938.52 652.82H939.06L939.61 678.85H945.58L946.13 652.82H946.67L947.22 678.85H966.24L966.79 652.82H968.41L968.96 678.85H982.55L983.09 652.82H983.63L984.18 678.85H987.98L988.53 574.49H989.07L989.62 678.85H997.77L998.31 652.82H998.85L999.4 678.85H1008.64L1009.19 652.82H1009.73L1010.27 678.85H1015.16L1015.71 652.82H1017.34L1017.88 678.85H1018.42L1018.97 652.82H1019.51L1020.06 678.85H1021.68L1022.23 652.82H1023.86L1024.41 678.85H1028.21L1028.75 652.82H1029.29L1029.84 678.85H1033.64L1034.19 652.82H1034.73L1035.28 678.85H1035.82L1036.36 652.82H1036.9L1037.45 678.85H1037.99L1038.54 652.82H1040.17L1040.71 678.85H1041.25L1041.8 652.82H1042.34L1042.89 678.85H1046.69L1047.24 652.82H1047.78L1048.32 678.85H1052.12L1052.67 652.82H1053.21L1053.76 678.85H1059.73L1060.28 652.82H1060.82L1061.37 678.85H1061.91L1062.46 652.82H1064.08L1064.63 678.85H1069.52L1070.07 652.82H1070.61L1071.15 678.85H1078.22L1078.76 652.82H1079.3L1079.85 678.85H1090.17L1090.72 652.82H1092.35L1092.9 678.85H1094.52L1095.07 652.82H1095.61L1096.16 678.85H1101.05L1101.59 652.82H1102.13L1102.68 678.85H1110.83L1111.38 652.82H1111.92L1112.46 678.85H1117.35L1117.9 652.82H1118.44L1118.99 678.85H1120.61L1121.16 652.82H1121.7L1122.25 678.85H1122.79L1123.34 652.82H1123.88L1124.42 678.85H1143.44L1143.99 652.82H1144.53L1145.08 678.85H1148.88L1149.43 652.82H1149.97L1150.51 678.85H1152.14L1152.69 652.82H1153.23L1153.78 678.85H1169.54L1170.08 652.82H1171.71L1172.26 678.85H1174.97L1175.52 652.82H1176.06L1176.61 678.85H1197.8L1198.35 652.82H1198.89L1199.44 678.85H1201.06L1201.61 652.82H1202.15L1202.7 678.85H1204.32L1204.87 652.82H1205.41L1205.96 678.85H1207.59L1208.13 652.82H1208.67L1209.22 678.85H1211.93L1212.48 652.82H1213.02L1213.57 678.85H1223.89L1224.44 652.82H1224.98L1225.53 678.85H1249.98L1250.53 652.82H1251.07L1251.62 678.85H1253.25L1253.79 652.82H1254.33L1254.88 678.85H1255.42L1255.97 652.82H1256.51L1257.05 678.85H1266.29L1266.84 652.82H1267.38L1267.93 678.85H1269.55L1270.1 652.82H1270.64L1271.19 678.85H1277.16L1277.71 652.82H1279.34L1279.88 678.85H1288.03L1288.58 652.82H1289.12L1289.67 678.85H1293.47L1294.02 652.82H1294.56L1295.1 678.85H1299.99L1300.54 652.82H1301.08L1301.63 678.85H1308.69L1309.24 652.82H1309.78L1310.32 678.85H1317.39L1317.93 627.59H1318.47L1319.02 652.82H1319.56L1320.11 678.85H1322.82L1323.37 652.82H1323.91L1324.46 678.85H1340.22L1340.76 652.82H1341.3L1341.85 678.85H1346.74L1347.29 652.82H1347.83L1348.37 678.85H1348.91L1349.46 652.82H1350L1350.55 678.85H1353.26L1353.81 652.82H1354.35L1354.9 678.85H1356.52L1357.07 652.82H1357.61L1358.16 678.85H1368.48L1369.03 652.82H1369.57L1370.12 678.85H1371.74L1372.29 627.59H1372.83L1373.38 678.85H1377.18L1377.73 652.82H1378.27L1378.81 678.85H1379.35L1379.9 652.82H1380.44L1380.99 678.85H1386.96L1387.51 652.82H1388.05L1388.6 678.85H1391.31L1391.86 652.82H1392.4L1392.95 678.85H1400.01L1400.56 652.82H1401.1L1401.64 678.85H1414.14L1414.69 652.82H1415.23L1415.78 678.85H1417.4L1417.95 652.82H1418.49L1419.04 678.85H1422.84L1423.39 579.15H1423.93L1424.47 652.82H1425.01L1425.56 678.85H1426.1L1426.65 652.82H1427.19L1427.74 678.85H1431.54L1432.08 652.82H1432.62L1433.17 678.85H1434.8L1435.35 652.82H1435.89L1436.43 678.85H1436.97L1437.52 652.82H1438.06L1438.61 678.85H1446.76L1447.3 652.82H1447.84L1448.39 678.85H1450.02L1450.57 652.82H1451.11L1451.65 678.85H1494.59L1495.14 652.82H1495.68L1496.23 678.85H1501.11L1501.66 652.82H1502.2L1502.75 678.85H1511.99L1512.53 652.82H1513.07L1513.62 678.85H1517.42L1517.97 652.82H1518.51L1519.06 678.85H1535.9L1536.45 652.82H1536.99L1537.54 678.85H1540.25L1540.8 652.82H1541.34L1541.89 678.85H1544.6L1545.15 652.82H1545.69L1546.23 678.85H1546.77L1547.32 652.82H1547.86L1548.41 678.85H1548.95L1549.5 652.82H1550.04L1550.58 678.85H1552.21L1552.76 652.82H1553.3L1553.84 678.85H1573.95L1574.5 469.45H1575.04L1575.59 678.85H1582.65L1583.2 652.82H1583.74L1584.28 678.85H1595.7L1596.24 652.82H1596.78L1597.33 678.85H1627.22L1627.77 652.82H1628.31L1628.86 678.85H1630.48L1631.03 652.82H1631.57L1632.12 678.85H1653.31L1653.86 652.82H1655.49L1656.04 678.85H1665.27L1665.82 652.82H1666.36L1666.91 678.85H1669.62L1670.17 652.82H1670.71L1671.26 678.85H1672.88L1673.43 652.82H1673.97L1674.52 678.85H1683.75L1684.3 652.82H1684.84L1685.39 678.85H1687.02L1687.56 652.82H1688.1L1688.65 678.85H1701.15L1701.7 652.82H1702.24L1702.78 678.85H1707.67L1708.22 652.82H1708.76L1709.31 678.85H1715.28L1715.83 652.82H1716.37L1716.92 678.85H1718.54L1719.09 631.32H1719.63L1720.18 678.85H1727.24L1727.79 652.82H1728.33L1728.87 678.85H1732.68L1733.22 652.82H1733.76L1734.31 678.85H1737.02L1737.57 652.82H1738.11L1738.66 678.85H1747.9L1748.44 652.82H1748.98L1749.53 604.86H1750.07L1750.62 652.82H1751.16L1751.7 678.85H1757.68L1758.23 652.82H1759.85L1760.4 678.85H1769.64L1770.19 446.2H1770.73L1771.27 678.85H1791.38L1791.93 627.22H1792.47L1793.02 678.85H1797.9L1798.45 652.82H1798.99L1799.54 678.85H1801.17L1801.71 652.82H1802.25L1802.8 678.85H1805.51L1806.06 652.82H1806.6L1807.15 678.85H1820.73L1821.28 652.82H1821.82L1822.37 678.85H1840.3L1840.85 626.66H1841.39L1841.94 678.85H1845.74L1846.29 652.82H1846.83L1847.37 678.85H1847.91L1848.46 652.82H1849L1849.55 678.85H1852.26L1852.81 652.82H1853.35L1853.9 678.85H1855.52L1856.07 652.82H1856.61L1857.16 678.85H1864.22L1864.77 442.95H1865.31L1865.85 678.85H1870.74L1871.29 652.82H1871.83L1872.38 678.85H1883.79L1884.34 652.82H1884.88L1885.42 678.85H1887.05L1887.6 652.82H1888.14L1888.68 678.85H1892.49L1893.03 652.82H1893.57L1894.12 678.85H1904.44L1904.99 652.82H1905.53L1906.08 678.85H1912.05L1912.6 652.82H1913.14L1913.69 678.85H1917.49L1918.04 652.82H1918.58L1919.12 678.85H1931.62L1932.17 652.82H1932.71L1933.26 678.85H1940.32L1940.87 456.95H1941.41L1941.95 678.85H1944.67L1945.22 627.59H1945.76L1946.3 678.85H1964.24L1964.78 652.82H1965.32L1965.87 678.85H1972.93L1973.48 652.82H1974.02L1974.57 678.85H1975.11L1975.66 652.82H1976.2L1976.74 678.85H1982.72L1983.27 652.82H1983.81L1984.35 678.85H1984.89L1985.44 652.82H1985.98L1986.53 678.85H1987.07L1987.61 652.82H1988.15L1988.7 678.85H1990.33L1990.88 652.82H1991.42L1991.96 678.85H1992.5L1993.05 652.82H1993.59L1994.14 678.85H2007.72L2008.27 652.82H2008.81L2009.36 678.85H2017.51L2018.05 652.82H2018.59L2019.14 678.85H2024.03L2024.58 652.82H2025.12L2025.66 678.85H2027.29L2027.84 652.82H2028.38L2028.93 678.85H2065.34L2065.89 652.82H2066.43L2066.98 678.85H2069.69L2070.24 652.82H2070.78L2071.32 678.85H2096.87L2097.42 652.82H2097.96L2098.5 678.85H2106.65L2107.2 652.82H2107.74L2108.29 678.85H2117.52L2118.07 652.82H2118.61L2119.16 678.85H2120.79L2121.33 652.82H2121.87L2122.42 678.85H2137.09L2137.64 652.82H2138.18L2138.73 678.85H2145.79L2146.34 652.82H2146.88L2147.42 678.85H2159.92L2160.47 652.82H2161.01L2161.56 678.85H2167.53L2168.08 652.82H2168.62L2169.17 678.85H2171.88L2172.43 627.22H2172.97L2173.52 678.85H2176.23L2176.78 535.45H2177.32L2177.86 678.85H2213.19L2213.74 652.82H2214.28L2214.83 678.85H2232.76L2233.31 652.82H2233.85L2234.4 678.85H2238.2L2238.74 652.82H2239.28L2239.83 678.85H2247.98L2248.53 652.82H2249.07L2249.62 678.85H2258.85L2259.4 652.82H2259.94L2260.49 678.85H2264.29L2264.84 652.82H2265.38L2265.92 678.85H2277.33L2277.88 652.82H2278.42L2278.97 678.85H2282.77L2283.32 635.98H2283.86L2284.4 652.82H2284.94L2285.49 678.85H2292.55L2293.1 652.82H2293.64L2294.19 678.85H2301.25L2301.8 628.9H2302.34L2302.89 652.82H2303.43L2303.97 678.85H2305.6L2306.15 652.82H2307.77L2308.32 678.85H2316.47L2317.02 652.82H2317.56L2318.11 678.85H2330.6L2331.15 652.82H2331.69L2332.24 678.85H2340.39L2340.94 652.82H2341.48L2342.02 678.85H2351.26L2351.81 652.82H2352.35L2352.89 678.85H2353.43L2353.98 652.82H2354.52L2355.07 678.85H2356.7L2357.24 652.82H2357.78L2358.33 678.85H2365.39L2365.94 628.9H2366.48L2367.03 678.85H2368.65L2369.2 652.82H2369.74L2370.29 678.85H2383.87L2384.42 652.82H2386.05L2386.6 678.85H2391.48L2392.03 652.82H2392.57L2393.12 678.85H2396.92"/>
</g>
<path d="M75.5 706v4.8M97.5 706v4.8M120.5 706v4.8M143.5 706v4.8M166.5 706v4.8M189.5 706v4.8M212.5 706v4.8M234.5 706v4.8M257.5 706v4.8M280.5 706v4.8M303.5 706v4.8M326.5 706v4.8M349.5 706v4.8M371.5 706v4.8M394.5 706v4.8M417.5 706v4.8M440.5 706v4.8M463.5 706v4.8M486.5 706v4.8M508.5 706v4.8M531.5 706v4.8M554.5 706v4.8M577.5 706v4.8M600.5 706v4.8M623.5 706v4.8M645.5 706v4.8M668.5 706v4.8M691.5 706v4.8M714.5 706v4.8M737.5 706v4.8M759.5 706v4.8M782.5 706v4.8M805.5 706v4.8M828.5 706v4.8M851.5 706v4.8M874.5 706v4.8M896.5 706v4.8M919.5 706v4.8M942.5 706v4.8M965.5 706v4.8M988.5 706v4.8M1011.5 706v4.8M1033.5 706v4.8M1056.5 706v4.8M1079.5 706v4.8M1102.5 706v4.8M1125.5 706v4.8M1148.5 706v4.8M1170.5 706v4.8M1193.5 706v4.8M1216.5 706v4.8M1239.5 706v4.8M1262.5 706v4.8M1285.5 706v4.8M1307.5 706v4.8M1330.5 706v4.8M1353.5 706v4.8M1376.5 706v4.8M1399.5 706v4.8M1422.5 706v4.8M1444.5 706v4.8M1467.5 706v4.8M1490.5 706v4.8M1513.5 706v4.8M1536.5 706v4.8M1559.5 706v4.8M1581.5 706v4.8M1604.5 706v4.8M1627.5 706v4.8M1650.5 706v4.8M1673.5 706v4.8M1696.5 706v4.8M1718.5 706v4.8M1741.5 706v4.8M1764.5 706v4.8M1787.5 706v4.8M1810.5 706v4.8M1832.5 706v4.8M1855.5 706v4.8M1878.5 706v4.8M1901.5 706v4.8M1924.5 706v4.8M1947.5 706v4.8M1969.5 706v4.8M1992.5 706v4.8M2015.5 706v4.8M2038.5 706v4.8M2061.5 706v4.8M2084.5 706v4.8M2106.5 706v4.8M2129.5 706v4.8M2152.5 706v4.8M2175.5 706v4.8M2198.5 706v4.8M2221.5 706v4.8M2243.5 706v4.8M2266.5 706v4.8M2289.5 706v4.8M2312.5 706v4.8M2335.5 706v4.8M2358.5 706v4.8M2380.5 706v4.8M75 679.5h-5M75 613.5h-5M75 547.5h-5M75 481.5h-5M75 416.5h-5M75 350.5h-5M75 284.5h-5M75 218.5h-5M75 153.5h-5" stroke="#555555" stroke-width="1.11" fill="none"/>
<text class="tl" text-anchor="end" transform="translate(77.88,715.1) rotate(-90)">2022-07-18 12:13:43</text>
<text class="tl" text-anchor="end" transform="translate(100.70,715.1) rotate(-90)">2022-07-18 12:16:02</text>
<text class="tl" text-anchor="end" transform="translate(123.52,715.1) rotate(-90)">2022-07-18 12:18:20</text>
<text class="tl" text-anchor="end" transform="translate(146.34,715.1) rotate(-90)">2022-07-18 12:20:39</text>
<text class="tl" text-anchor="end" transform="translate(169.16,715.1) rotate(-90)">2022-07-18 12:22:58</text>
<text class="tl" text-anchor="end" transform="translate(191.98,715.1) rotate(-90)">2022-07-18 12:25:16</text>
<text class="tl" text-anchor="end" transform="translate(214.80,715.1) rotate(-90)">2022-07-18 12:27:35</text>
<text class="tl" text-anchor="end" transform="translate(237.62,715.1) rotate(-90)">2022-07-18 12:29:54</text>
<text class="tl" text-anchor="end" transform="translate(260.44,715.1) rotate(-90)">2022-07-18 12:32:12</text>
<text class="tl" text-anchor="end" transform="translate(283.26,715.1) rotate(-90)">2022-07-18 12:34:31</text>
<text class="tl" text-anchor="end" transform="translate(306.08,715.1) rotate(-90)">2022-07-18 12:36:50</text>
<text class="tl" text-anchor="end" transform="translate(328.90,715.1) rotate(-90)">2022-07-18 12:39:10</text>
<text class="tl" text-anchor="end" transform="translate(351.72,715.1) rotate(-90)">2022-07-18 12:41:31</text>
<text class="tl" text-anchor="end" transform="translate(374.54,715.1) rotate(-90)">2022-07-18 12:43:52</text>
<text class="tl" text-anchor="end" transform="translate(397.36,715.1) rotate(-90)">2022-07-18 12:46:14</text>
<text class="tl" text-anchor="end" transform="translate(420.18,715.1) rotate(-90)">2022-07-18 12:48:35</text>
<text class="tl" text-anchor="end" transform="translate(443.00,715.1) rotate(-90)">2022-07-18 12:50:56</text>
<text class="tl" text-anchor="end" transform="translate(465.82,715.1) rotate(-90)">2022-07-18 12:53:18</text>
<text class="tl" text-anchor="end" transform="translate(488.64,715.1) rotate(-90)">2022-07-18 12:55:39</text>
<text class="tl" text-anchor="end" transform="translate(511.46,715.1) rotate(-90)">2022-07-18 12:58:00</text>
<text class="tl" text-anchor="end" transform="translate(534.28,715.1) rotate(-90)">2022-07-18 13:00:21</text>
<text class="tl" text-anchor="end" transform="translate(557.10,715.1) rotate(-90)">2022-07-18 13:02:42</text>
<text class="tl" text-anchor="end" transform="translate(579.92,715.1) rotate(-90)">2022-07-18 13:05:04</text>
<text class="tl" text-anchor="end" transform="translate(602.74,715.1) rotate(-90)">2022-07-18 13:07:25</text>
<text class="tl" text-anchor="end" transform="translate(625.56,715.1) rotate(-90)">2022-07-18 13:09:47</text>
<text class="tl" text-anchor="end" transform="translate(648.38,715.1) rotate(-90)">2022-07-18 13:12:08</text>
<text class="tl" text-anchor="end" transform="translate(671.20,715.1) rotate(-90)">2022-07-18 13:14:29</text>
<text class="tl" text-anchor="end" transform="translate(694.02,715.1) rotate(-90)">2022-07-18 13:16:50</text>
<text class="tl" text-anchor="end" transform="translate(716.84,715.1) rotate(-90)">2022-07-18 13:19:12</text>
<text class="tl" text-anchor="end" transform="translate(739.66,715.1) rotate(-90)">2022-07-18 13:21:33</text>
<text class="tl" text-anchor="end" transform="translate(762.48,715.1) rotate(-90)">2022-07-18 13:23:54</text>
<text class="tl" text-anchor="end" transform="translate(785.30,715.1) rotate(-90)">2022-07-18 13:26:15</text>
<text class="tl" text-anchor="end" transform="translate(808.12,715.1) rotate(-90)">2022-07-18 13:28:36</text>
<text class="tl" text-anchor="end" transform="translate(830.94,715.1) rotate(-90)">2022-07-18 13:30:57</text>
<text class="tl" text-anchor="end" transform="translate(853.76,715.1) rotate(-90)">2022-07-18 13:33:19</text>
<text class="tl" text-anchor="end" transform="translate(876.58,715.1) rotate(-90)">2022-07-18 13:35:40</text>
<text class="tl" text-anchor="end" transform="translate(899.40,715.1) rotate(-90)">2022-07-18 13:38:01</text>
<text class="tl" text-anchor="end" transform="translate(922.22,715.1) rotate(-90)">2022-07-18 13:40:22</text>
<text class="tl" text-anchor="end" transform="translate(945.04,715.1) rotate(-90)">2022-07-18 13:42:44</text>
<text class="tl" text-anchor="end" transform="translate(967.86,715.1) rotate(-90)">2022-07-18 13:45:05</text>
<text class="tl" text-anchor="end" transform="translate(990.68,715.1) rotate(-90)">2022-07-18 13:47:26</text>
<text class="tl" text-anchor="end" transform="translate(1013.50,715.1) rotate(-90)">2022-07-18 13:49:48</text>
<text class="tl" text-anchor="end" transform="translate(1036.32,715.1) rotate(-90)">2022-07-18 13:52:12</text>
<text class="tl" text-anchor="end" transform="translate(1059.14,715.1) rotate(-90)">2022-07-18 13:54:33</text>
<text class="tl" text-anchor="end" transform="translate(1081.96,715.1) rotate(-90)">2022-07-18 13:56:56</text>
<text class="tl" text-anchor="end" transform="translate(1104.78,715.1) rotate(-90)">2022-07-18 13:59:19</text>
<text class="tl" text-anchor="end" transform="translate(1127.60,715.1) rotate(-90)">2022-07-18 14:01:43</text>
<text class="tl" text-anchor="end" transform="translate(1150.42,715.1) rotate(-90)">2022-07-18 14:04:06</text>
<text class="tl" text-anchor="end" transform="translate(1173.24,715.1) rotate(-90)">2022-07-18 14:06:28</text>
<text class="tl" text-anchor="end" transform="translate(1196.06,715.1) rotate(-90)">2022-07-18 14:08:49</text>
<text class="tl" text-anchor="end" transform="translate(1218.88,715.1) rotate(-90)">2022-07-18 14:11:14</text>
<text class="tl" text-anchor="end" transform="translate(1241.70,715.1) rotate(-90)">2022-07-18 14:13:38</text>
<text class="tl" text-anchor="end" transform="translate(1264.52,715.1) rotate(-90)">2022-07-18 14:16:00</text>
<text class="tl" text-anchor="end" transform="translate(1287.34,715.1) rotate(-90)">2022-07-18 14:18:23</text>
<text class="tl" text-anchor="end" transform="translate(1310.16,715.1) rotate(-90)">2022-07-18 14:20:46</text>
<text class="tl" text-anchor="end" transform="translate(1332.98,715.1) rotate(-90)">2022-07-18 14:23:09</text>
<text class="tl" text-anchor="end" transform="translate(1355.80,715.1) rotate(-90)">2022-07-18 14:25:32</text>
<text class="tl" text-anchor="end" transform="translate(1378.62,715.1) rotate(-90)">2022-07-18 14:27:55</text>
<text class="tl" text-anchor="end" transform="translate(1401.44,715.1) rotate(-90)">2022-07-18 14:30:17</text>
<text class="tl" text-anchor="end" transform="translate(1424.26,715.1) rotate(-90)">2022-07-18 14:32:41</text>
<text class="tl" text-anchor="end" transform="translate(1447.08,715.1) rotate(-90)">2022-07-18 14:35:01</text>
<text class="tl" text-anchor="end" transform="translate(1469.90,715.1) rotate(-90)">2022-07-18 14:37:25</text>
<text class="tl" text-anchor="end" transform="translate(1492.72,715.1) rotate(-90)">2022-07-18 14:39:47</text>
<text class="tl" text-anchor="end" transform="translate(1515.54,715.1) rotate(-90)">2022-07-18 14:42:08</text>
<text class="tl" text-anchor="end" transform="translate(1538.36,715.1) rotate(-90)">2022-07-18 14:44:31</text>
<text class="tl" text-anchor="end" transform="translate(1561.18,715.1) rotate(-90)">2022-07-18 14:46:53</text>
<text class="tl" text-anchor="end" transform="translate(1584.00,715.1) rotate(-90)">2022-07-18 14:49:15</text>
<text class="tl" text-anchor="end" transform="translate(1606.82,715.1) rotate(-90)">2022-07-18 14:51:37</text>
<text class="tl" text-anchor="end" transform="translate(1629.64,715.1) rotate(-90)">2022-07-18 14:54:00</text>
<text class="tl" text-anchor="end" transform="translate(1652.46,715.1) rotate(-90)">2022-07-18 14:56:24</text>
<text class="tl" text-anchor="end" transform="translate(1675.28,715.1) rotate(-90)">2022-07-18 14:58:45</text>
<text class="tl" text-anchor="end" transform="translate(1698.10,715.1) rotate(-90)">2022-07-18 15:01:07</text>
<text class="tl" text-anchor="end" transform="translate(1720.92,715.1) rotate(-90)">2022-07-18 15:03:30</text>
<text class="tl" text-anchor="end" transform="translate(1743.74,715.1) rotate(-90)">2022-07-18 15:05:52</text>
<text class="tl" text-anchor="end" transform="translate(1766.56,715.1) rotate(-90)">2022-07-18 15:08:16</text>
<text class="tl" text-anchor="end" transform="translate(1789.38,715.1) rotate(-90)">2022-07-18 15:10:38</text>
<text class="tl" text-anchor="end" transform="translate(1812.20,715.1) rotate(-90)">2022-07-18 15:13:02</text>
<text class="tl" text-anchor="end" transform="translate(1835.02,715.1) rotate(-90)">2022-07-18 15:15:26</text>
<text class="tl" text-anchor="end" transform="translate(1857.84,715.1) rotate(-90)">2022-07-18 15:17:50</text>
<text class="tl" text-anchor="end" transform="translate(1880.66,715.1) rotate(-90)">2022-07-18 15:20:14</text>
<text class="tl" text-anchor="end" transform="translate(1903.48,715.1) rotate(-90)">2022-07-18 15:22:37</text>
<text class="tl" text-anchor="end" transform="translate(1926.30,715.1) rotate(-90)">2022-07-18 15:24:59</text>
<text class="tl" text-anchor="end" transform="translate(1949.12,715.1) rotate(-90)">2022-07-18 15:27:22</text>
<text class="tl" text-anchor="end" transform="translate(1971.94,715.1) rotate(-90)">2022-07-18 15:29:43</text>
<text class="tl" text-anchor="end" transform="translate(1994.76,715.1) rotate(-90)">2022-07-18 15:32:04</text>
<text class="tl" text-anchor="end" transform="translate(2017.58,715.1) rotate(-90)">2022-07-18 15:34:23</text>
<text class="tl" text-anchor="end" transform="translate(2040.40,715.1) rotate(-90)">2022-07-18 15:36:44</text>
<text class="tl" text-anchor="end" transform="translate(2063.22,715.1) rotate(-90)">2022-07-18 15:39:05</text>
<text class="tl" text-anchor="end" transform="translate(2086.04,715.1) rotate(-90)">2022-07-18 15:41:25</text>
<text class="tl" text-anchor="end" transform="translate(2108.86,715.1) rotate(-90)">2022-07-18 15:43:45</text>
<text class="tl" text-anchor="end" transform="translate(2131.68,715.1) rotate(-90)">2022-07-18 15:46:05</text>
<text class="tl" text-anchor="end" transform="translate(2154.50,715.1) rotate(-90)">2022-07-18 15:48:25</text>
<text class="tl" text-anchor="end" transform="translate(2177.32,715.1) rotate(-90)">2022-07-18 15:50:46</text>
<text class="tl" text-anchor="end" transform="translate(2200.14,715.1) rotate(-90)">2022-07-18 15:53:06</text>
<text class="tl" text-anchor="end" transform="translate(2222.96,715.1) rotate(-90)">2022-07-18 15:55:26</text>
<text class="tl" text-anchor="end" transform="translate(2245.78,715.1) rotate(-90)">2022-07-18 15:57:47</text>
<text class="tl" text-anchor="end" transform="translate(2268.60,715.1) rotate(-90)">2022-07-18 16:00:07</text>
<text class="tl" text-anchor="end" transform="translate(2291.42,715.1) rotate(-90)">2022-07-18 16:02:27</text>
<text class="tl" text-anchor="end" transform="translate(2314.24,715.1) rotate(-90)">2022-07-18 16:04:48</text>
<text class="tl" text-anchor="end" transform="translate(2337.06,715.1) rotate(-90)">2022-07-18 16:07:08</text>
<text class="tl" text-anchor="end" transform="translate(2359.88,715.1) rotate(-90)">2022-07-18 16:09:28</text>
<text class="tl" text-anchor="end" transform="translate(2382.70,715.1) rotate(-90)">2022-07-18 16:11:48</text>
<text class="tl" text-anchor="end" x="66.3" y="683.8">0</text>
<text class="tl" text-anchor="end" x="64.6" y="618.1">25</text>
<text class="tl" text-anchor="end" x="64.6" y="552.4">50</text>
<text class="tl" text-anchor="end" x="64.6" y="486.6">75</text>
<text class="tl" text-anchor="end" x="64.6" y="420.9">100</text>
<text class="tl" text-anchor="end" x="64.6" y="355.2">125</text>
<text class="tl" text-anchor="end" x="64.6" y="289.4">150</text>
<text class="tl" text-anchor="end" x="64.6" y="223.7">175</text>
<text class="tl" text-anchor="end" x="64.6" y="157.9">200</text>
<text class="al" x="1236.1" y="880.3">Timestamp</text>
<text class="al" transform="translate(28.5,417.4) rotate(-90)">CPU</text>
<rect x="2404.8" y="227.4" width="193" height="67.2" rx="2.8" fill="#e5e5e5" fill-opacity="0.8" stroke="#cccccc" stroke-opacity="0.8" stroke-width="1"/>
<rect x="2410.1" y="233.9" width="28.8" height="9.8" fill="#008000" fill-opacity="0.05"/>
<text class="lg" x="2449.1" y="243.1">Resources allocation</text>
<rect x="2410.1" y="254.8" width="28.8" height="9.8" fill="#ff0000" fill-opacity="0.05"/>
<text class="lg" x="2449.1" y="264.1">Full load</text>
<rect x="2410.1" y="275.8" width="28.8" height="9.8" fill="#ffff00" fill-opacity="0.05"/>
<text class="lg" x="2449.1" y="285.0">Resources release</text>
<rect x="2404.8" y="308.3" width="181.2" height="108.5" rx="2.8" fill="#e5e5e5" fill-opacity="0.8" stroke="#cccccc" stroke-opacity="0.8" stroke-width="1"/>
<path d="M2409.4 318.8h29.5" stroke="#57dbdb" stroke-width="2.08" fill="none"/>
<text class="lg" x="2449.1" y="324.0">wazuh-execd</text>
<path d="M2409.4 339.8h29.5" stroke="#7157db" stroke-width="2.08" fill="none"/>
<text class="lg" x="2449.1" y="345.0">wazuh-syscheckd</text>
<path d="M2409.4 360.9h29.5" stroke="#db57a6" stroke-width="2.08" fill="none"/>
<text class="lg" x="2449.1" y="366.1">wazuh-agentd</text>
<path d="M2409.4 381.9h29.5" stroke="#dba657" stroke-width="2.08" fill="none"/>
<text class="lg" x="2449.1" y="387.1">wazuh-logcollector</text>
<path d="M2409.4 402.9h29.5" stroke="#71db57" stroke-width="2.08" fill="none"/>
<text class="lg" x="2449.1" y="408.1">wazuh-modulesd</text>
</svg></body></html>
